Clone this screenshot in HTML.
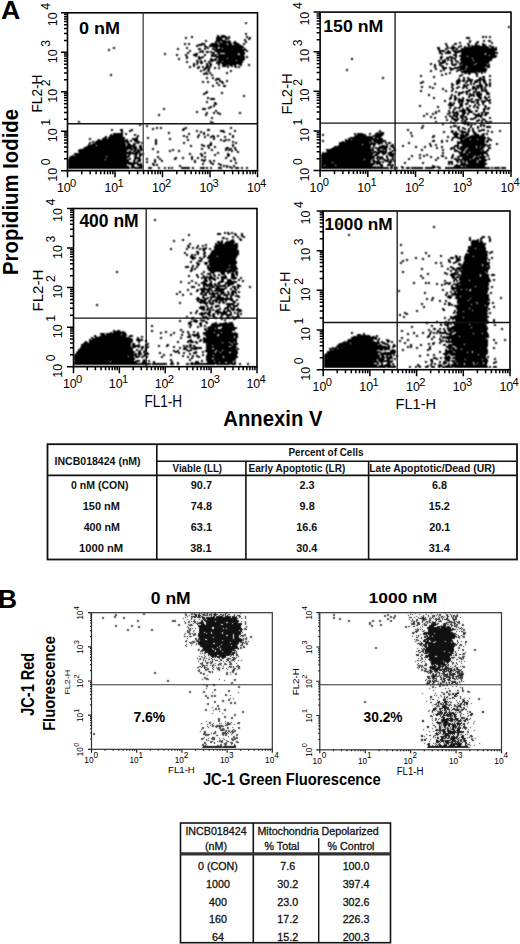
<!DOCTYPE html>
<html><head><meta charset="utf-8"><style>
html,body{margin:0;padding:0;background:#fff;}
body{width:520px;height:944px;overflow:hidden;}
svg{display:block;font-family:"Liberation Sans", sans-serif;}
</style></head><body>
<svg width="520" height="944" viewBox="0 0 520 944">
<defs><filter id="fa" x="0" y="0" width="1" height="1" color-interpolation-filters="sRGB"><feConvolveMatrix order="3" kernelMatrix="1 2 1 2 4 2 1 2 1" edgeMode="none"/></filter><filter id="fb" x="0" y="0" width="1" height="1" color-interpolation-filters="sRGB"><feConvolveMatrix order="3" kernelMatrix="1 2 1 2 12 2 1 2 1" edgeMode="none"/></filter></defs>
<g filter="url(#fa)"><path d="M245 22.5h2m-2 1h2m261 3h2m-2 1h2m-265 6h2m-2 1h2m-30 1h2m2 0h4m-34 1h2m24 0h3m1 0h6m1 0h2m16 0h2m234 0h2m1 0h2m2 0h2m-306 1h2m4 0h2m23 0h11m1 0h2m16 0h2m1 0h2m215 0h4m12 0h2m1 0h2m2 0h2m-306 1h2m29 0h6m3 0h5m18 0h3m215 0h4m-254 1h7m2 0h3m16 0h2m2 0h2m-45 1h2m9 0h10m2 0h2m14 0h2m223 0h2m12 0h2m3 0h3m-286 1h2m8 0h5m1 0h10m3 0h2m9 0h2m222 0h2m6 0h2m4 0h2m3 0h3m-276 1h2m1 0h3m1 0h9m2 0h4m8 0h2m212 0h2m8 0h2m5 0h3m12 0h2m-309 1h2m2 0h2m11 0h4m6 0h7m1 0h8m1 0h4m1 0h6m4 0h2m200 0h2m7 0h3m2 0h2m6 0h2m6 0h3m4 0h2m7 0h2m-309 1h2m2 0h2m8 0h7m5 0h8m1 0h8m1 0h4m2 0h6m3 0h2m200 0h2m7 0h3m10 0h3m5 0h2m5 0h4m-290 1h6m2 0h2m3 0h33m204 0h2m4 0h2m6 0h2m6 0h2m1 0h2m1 0h6m2 0h4m3 0h2m-295 1h2m6 0h3m2 0h35m202 0h2m4 0h2m4 0h4m2 0h2m2 0h2m1 0h17m1 0h5m-381 1h2m71 0h2m17 0h4m4 0h5m2 0h24m193 0h3m7 0h2m1 0h6m2 0h2m4 0h25m2 0h3m1 0h2m-384 1h2m62 0h2m7 0h2m10 0h3m3 0h2m1 0h2m3 0h2m1 0h3m1 0h3m1 0h20m1 0h2m191 0h3m5 0h4m1 0h8m3 0h36m-389 1h2m67 0h2m19 0h3m3 0h2m6 0h34m192 0h2m5 0h2m5 0h2m2 0h2m3 0h36m-389 1h2m79 0h2m10 0h2m11 0h34m190 0h7m2 0h2m3 0h5m1 0h39m-308 1h2m8 0h5m2 0h3m1 0h2m3 0h29m2 0h2m191 0h6m2 0h4m2 0h42m-308 1h2m10 0h2m1 0h2m2 0h3m1 0h5m2 0h28m194 0h2m4 0h6m3 0h6m1 0h37m-334 1h2m21 0h2m6 0h3m14 0h3m2 0h3m5 0h13m1 0h6m194 0h4m2 0h6m4 0h2m4 0h24m1 0h12m-334 1h2m10 0h2m7 0h2m6 0h5m6 0h2m5 0h3m1 0h2m1 0h20m2 0h5m196 0h2m10 0h4m4 0h24m1 0h9m-319 1h2m7 0h2m6 0h4m7 0h2m5 0h6m1 0h26m209 0h4m2 0h30m1 0h7m-311 1h2m7 0h2m1 0h2m2 0h2m7 0h34m1 0h2m192 0h3m6 0h3m3 0h2m2 0h8m1 0h29m-311 1h2m10 0h6m12 0h29m1 0h2m192 0h3m3 0h8m1 0h2m4 0h35m-318 1h2m6 0h2m10 0h4m8 0h2m3 0h2m1 0h9m1 0h17m106 0h2m87 0h2m4 0h3m2 0h5m4 0h12m1 0h20m-315 1h2m18 0h2m10 0h7m1 0h27m106 0h2m87 0h2m2 0h2m1 0h2m1 0h2m2 0h2m4 0h32m-296 1h2m2 0h2m2 0h2m4 0h7m1 0h18m1 0h7m194 0h2m2 0h4m1 0h2m1 0h3m2 0h2m3 0h13m1 0h18m-306 1h2m8 0h3m1 0h2m2 0h2m2 0h5m4 0h5m1 0h20m195 0h2m2 0h4m5 0h2m2 0h4m2 0h29m-304 1h2m9 0h2m1 0h3m5 0h2m6 0h27m196 0h7m5 0h2m4 0h2m1 0h29m-296 1h2m1 0h2m2 0h3m3 0h2m1 0h3m4 0h4m1 0h21m188 0h2m7 0h5m2 0h2m3 0h2m2 0h2m2 0h17m1 0h12m-296 1h2m1 0h2m8 0h2m1 0h3m6 0h2m2 0h15m1 0h4m6 0h2m180 0h2m2 0h2m3 0h2m5 0h2m3 0h6m2 0h2m1 0h12m1 0h12m1 0h2m-297 1h2m11 0h3m1 0h2m6 0h2m2 0h6m1 0h4m1 0h2m4 0h2m6 0h2m184 0h2m3 0h4m9 0h4m4 0h30m-301 1h2m2 0h2m3 0h2m2 0h2m2 0h5m11 0h4m1 0h2m2 0h2m1 0h3m1 0h2m194 0h2m5 0h3m14 0h8m1 0h23m-301 1h2m6 0h3m2 0h2m1 0h3m1 0h2m3 0h2m2 0h2m7 0h2m6 0h2m1 0h2m194 0h2m6 0h5m2 0h2m3 0h12m1 0h18m2 0h3m-293 1h2m5 0h6m4 0h2m2 0h2m215 0h2m5 0h5m2 0h10m1 0h27m-284 1h3m2 0h2m136 0h2m87 0h2m6 0h2m5 0h4m4 0h7m1 0h21m-287 1h2m1 0h2m2 0h3m20 0h2m114 0h2m82 0h2m8 0h2m1 0h2m5 0h2m4 0h6m1 0h24m-287 1h2m5 0h2m21 0h2m198 0h2m8 0h2m14 0h2m3 0h25m-281 1h2m2 0h2m15 0h2m221 0h2m10 0h16m1 0h2m1 0h2m1 0h2m-283 1h5m1 0h2m15 0h2m217 0h2m2 0h2m13 0h3m1 0h3m4 0h3m3 0h2m-373 1h2m91 0h2m1 0h2m3 0h2m228 0h2m2 0h2m14 0h2m5 0h2m6 0h2m-368 1h2m99 0h2m207 0h2m19 0h2m16 0h4m13 0h2m11 0h2m-71 1h2m11 0h2m24 0h2m15 0h2m4 0h3m4 0h2m-285 1h2m4 0h2m168 0h2m49 0h2m28 0h2m2 0h2m10 0h2m1 0h3m-279 1h2m4 0h2m2 0h4m162 0h2m74 0h2m3 0h2m2 0h3m9 0h3m1 0h2m-270 1h5m238 0h2m3 0h2m3 0h5m4 0h8m4 0h2m-276 1h2m2 0h2m5 0h2m228 0h5m1 0h3m1 0h7m2 0h6m1 0h4m3 0h2m-289 1h2m3 0h2m10 0h4m3 0h2m194 0h2m32 0h5m1 0h3m1 0h3m1 0h2m2 0h4m1 0h2m2 0h3m-284 1h2m3 0h2m7 0h2m3 0h3m196 0h4m32 0h4m5 0h2m3 0h2m2 0h4m1 0h2m2 0h3m3 0h2m-275 1h2m4 0h2m196 0h2m12 0h2m15 0h2m3 0h4m5 0h2m3 0h2m1 0h2m4 0h2m3 0h3m2 0h2m-273 1h2m214 0h2m15 0h3m2 0h2m5 0h2m2 0h2m1 0h2m1 0h2m4 0h3m3 0h3m1 0h2m-279 1h2m4 0h2m3 0h3m226 0h2m9 0h6m7 0h7m2 0h3m1 0h2m-279 1h2m9 0h3m195 0h2m6 0h2m20 0h2m5 0h2m3 0h4m5 0h3m1 0h7m2 0h2m2 0h2m-70 1h2m6 0h2m1 0h2m17 0h2m3 0h4m2 0h3m1 0h2m4 0h4m1 0h2m1 0h3m1 0h2m-54 1h2m8 0h2m8 0h2m2 0h2m4 0h2m2 0h2m4 0h7m1 0h3m1 0h2m-44 1h2m8 0h2m15 0h2m1 0h2m1 0h2m4 0h3m1 0h2m-67 1h2m23 0h2m4 0h2m14 0h4m4 0h2m4 0h6m-281 1h2m212 0h2m23 0h2m4 0h2m2 0h2m5 0h2m1 0h5m3 0h4m1 0h2m1 0h2m1 0h4m-283 1h3m13 0h2m232 0h2m1 0h6m1 0h3m5 0h2m1 0h4m6 0h3m-286 1h4m14 0h2m235 0h5m3 0h2m1 0h2m2 0h2m1 0h6m4 0h4m-287 1h2m223 0h2m21 0h2m5 0h2m6 0h2m1 0h5m2 0h6m4 0h4m-247 1h2m183 0h2m21 0h2m1 0h2m2 0h2m9 0h6m1 0h6m-239 1h2m205 0h2m2 0h2m12 0h3m2 0h2m2 0h4m3 0h2m2 0h2m-283 1h2m224 0h2m15 0h2m2 0h3m5 0h2m4 0h2m8 0h4m2 0h3m1 0h2m-283 1h2m1 0h5m218 0h2m14 0h3m2 0h3m1 0h2m2 0h2m7 0h2m6 0h3m2 0h4m-278 1h5m234 0h2m3 0h3m1 0h6m2 0h4m1 0h2m2 0h6m5 0h2m1 0h2m-47 1h2m8 0h2m2 0h6m2 0h6m3 0h4m2 0h2m1 0h7m-285 1h2m236 0h2m12 0h6m3 0h2m1 0h5m2 0h2m2 0h5m2 0h2m-284 1h2m6 0h2m233 0h3m1 0h2m3 0h2m1 0h2m4 0h2m2 0h4m1 0h3m3 0h3m4 0h2m-277 1h3m232 0h3m1 0h2m4 0h4m2 0h3m8 0h3m3 0h2m5 0h2m-277 1h3m231 0h6m5 0h4m2 0h3m6 0h2m2 0h2m2 0h2m-271 1h2m204 0h2m27 0h6m6 0h3m6 0h2m3 0h2m2 0h2m4 0h2m-276 1h2m1 0h2m204 0h2m16 0h2m11 0h2m7 0h4m6 0h2m2 0h2m1 0h2m6 0h3m-279 1h4m225 0h2m10 0h2m3 0h3m1 0h3m5 0h3m4 0h2m1 0h3m6 0h2m1 0h2m-327 1h2m37 0h4m2 0h2m239 0h2m3 0h3m1 0h2m2 0h2m2 0h3m8 0h2m4 0h3m1 0h3m-327 1h2m37 0h4m247 0h2m7 0h3m1 0h5m12 0h3m1 0h2m-274 1h2m221 0h2m8 0h2m3 0h2m4 0h7m1 0h4m4 0h3m5 0h2m-289 1h2m17 0h2m218 0h2m1 0h2m8 0h2m2 0h2m2 0h2m1 0h7m2 0h5m2 0h3m5 0h2m-289 1h2m8 0h2m5 0h2m2 0h2m20 0h2m194 0h2m12 0h2m1 0h6m4 0h4m2 0h5m8 0h8m-283 1h2m5 0h2m2 0h4m18 0h2m185 0h2m4 0h2m1 0h2m10 0h4m2 0h6m3 0h4m1 0h2m4 0h2m3 0h2m1 0h2m2 0h4m-331 1h2m45 0h2m12 0h2m205 0h2m4 0h2m13 0h2m4 0h2m1 0h3m3 0h3m2 0h2m4 0h7m1 0h2m1 0h3m-329 1h2m45 0h2m216 0h2m24 0h2m2 0h5m2 0h4m11 0h8m1 0h3m-64 1h2m5 0h2m13 0h2m2 0h9m2 0h7m8 0h7m-271 1h2m217 0h2m2 0h2m9 0h2m4 0h2m3 0h2m2 0h3m1 0h3m7 0h3m3 0h2m7 0h2m-280 1h2m221 0h2m15 0h5m1 0h2m2 0h3m2 0h2m2 0h6m6 0h2m5 0h2m-45 1h2m4 0h7m3 0h2m1 0h3m2 0h4m4 0h2m2 0h4m-40 1h2m6 0h4m3 0h2m1 0h3m9 0h4m1 0h2m1 0h2m-408 1h2m130 0h2m223 0h2m13 0h2m3 0h2m4 0h2m1 0h2m10 0h3m2 0h2m2 0h3m1 0h3m-414 1h2m130 0h4m221 0h2m13 0h2m1 0h2m7 0h8m11 0h2m2 0h7m-280 1h2m228 0h2m9 0h2m7 0h8m1 0h2m1 0h2m4 0h3m4 0h2m-350 1h2m301 0h2m20 0h2m1 0h3m1 0h2m1 0h2m4 0h2m1 0h2m-346 1h2m5 0h2m274 0h2m29 0h4m10 0h2m1 0h2m8 0h2m1 0h2m-339 1h2m274 0h2m26 0h2m1 0h4m1 0h2m10 0h2m5 0h2m1 0h2m1 0h2m1 0h5m-335 1h2m2 0h2m23 0h2m43 0h2m189 0h2m27 0h2m5 0h3m2 0h2m6 0h2m5 0h2m7 0h5m-339 1h2m2 0h2m2 0h2m21 0h4m43 0h2m189 0h2m34 0h2m3 0h4m2 0h2m2 0h2m3 0h2m-368 1h2m7 0h3m8 0h2m19 0h2m28 0h3m22 0h3m197 0h2m49 0h2m4 0h2m2 0h2m2 0h2m7 0h4m-374 1h2m7 0h3m6 0h4m49 0h2m12 0h2m9 0h3m10 0h4m10 0h2m143 0h2m26 0h2m42 0h2m5 0h2m1 0h2m5 0h2m2 0h2m4 0h7m2 0h2m10 0h2m-380 1h2m6 0h2m65 0h2m2 0h2m18 0h5m9 0h2m143 0h2m62 0h2m6 0h3m1 0h2m3 0h6m1 0h3m2 0h3m3 0h3m6 0h2m2 0h2m6 0h2m-380 1h2m45 0h2m30 0h2m1 0h2m18 0h2m152 0h2m1 0h4m26 0h2m31 0h2m6 0h3m1 0h2m3 0h6m1 0h2m4 0h3m15 0h2m-380 1h10m2 0h2m41 0h2m18 0h2m13 0h2m24 0h2m123 0h2m1 0h6m6 0h2m4 0h9m26 0h2m41 0h6m3 0h2m1 0h4m4 0h4m6 0h2m1 0h2m-378 1h2m1 0h10m2 0h2m7 0h2m52 0h2m8 0h2m3 0h2m2 0h2m20 0h2m91 0h2m30 0h2m1 0h9m3 0h2m4 0h9m69 0h6m1 0h4m1 0h4m5 0h5m2 0h4m1 0h2m-378 1h13m11 0h2m1 0h2m44 0h2m13 0h2m7 0h2m3 0h2m3 0h2m13 0h2m88 0h2m31 0h11m7 0h10m28 0h2m20 0h2m19 0h4m2 0h9m2 0h9m1 0h3m-379 1h2m2 0h14m14 0h2m44 0h2m1 0h2m9 0h2m5 0h2m4 0h5m2 0h2m5 0h2m6 0h2m120 0h28m29 0h2m19 0h3m12 0h2m5 0h4m2 0h7m2 0h16m-381 1h3m1 0h17m11 0h2m9 0h2m37 0h2m9 0h2m5 0h2m4 0h2m1 0h2m9 0h2m6 0h2m116 0h23m2 0h6m51 0h2m13 0h2m3 0h13m1 0h20m1 0h2m-400 1h2m11 0h5m1 0h17m7 0h6m9 0h2m20 0h2m42 0h2m133 0h29m1 0h5m69 0h2m3 0h29m1 0h3m-401 1h2m7 0h2m2 0h23m1 0h2m4 0h6m17 0h2m12 0h2m16 0h2m24 0h2m5 0h2m3 0h2m1 0h2m115 0h2m1 0h3m1 0h31m68 0h2m7 0h3m1 0h6m1 0h6m1 0h7m3 0h4m-395 1h31m2 0h2m2 0h4m17 0h2m30 0h2m31 0h2m1 0h4m1 0h2m92 0h2m21 0h27m1 0h13m46 0h3m6 0h2m3 0h2m3 0h2m7 0h25m1 0h3m1 0h2m-400 1h2m1 0h34m1 0h2m2 0h6m15 0h2m66 0h2m7 0h2m88 0h2m18 0h2m1 0h27m1 0h13m46 0h3m6 0h2m3 0h2m9 0h2m1 0h25m1 0h3m-400 1h2m1 0h2m1 0h30m1 0h3m7 0h4m1 0h2m12 0h2m26 0h2m25 0h2m20 0h2m1 0h2m102 0h31m1 0h2m1 0h9m2 0h2m1 0h3m17 0h2m31 0h2m14 0h28m1 0h2m-399 1h2m2 0h33m1 0h3m3 0h3m1 0h2m2 0h2m12 0h2m26 0h2m25 0h2m23 0h2m102 0h37m1 0h6m2 0h2m1 0h3m17 0h2m19 0h2m26 0h28m11 0h2m-410 1h2m1 0h35m1 0h4m2 0h3m19 0h2m44 0h2m6 0h3m20 0h2m105 0h23m1 0h13m2 0h2m6 0h2m4 0h2m35 0h2m4 0h2m20 0h2m3 0h25m2 0h2m5 0h2m-410 1h8m1 0h29m1 0h8m4 0h3m48 0h2m9 0h4m2 0h5m20 0h2m104 0h33m2 0h2m6 0h4m1 0h2m2 0h4m8 0h2m26 0h2m3 0h2m17 0h5m3 0h29m-405 1h51m2 0h3m48 0h2m11 0h2m2 0h2m5 0h2m16 0h2m100 0h37m2 0h2m4 0h9m2 0h4m8 0h2m11 0h2m7 0h2m4 0h2m9 0h2m11 0h5m1 0h16m1 0h3m1 0h4m2 0h2m-405 1h48m1 0h4m2 0h3m66 0h2m4 0h2m10 0h3m5 0h2m97 0h38m1 0h2m1 0h2m1 0h10m4 0h3m20 0h2m7 0h2m10 0h2m3 0h2m8 0h4m2 0h2m1 0h16m1 0h8m3 0h3m-408 1h54m2 0h4m9 0h2m47 0h2m5 0h2m15 0h4m1 0h2m2 0h2m95 0h40m1 0h2m1 0h12m2 0h2m2 0h2m41 0h2m12 0h5m2 0h9m2 0h15m5 0h3m-412 1h50m1 0h3m1 0h5m1 0h3m9 0h2m18 0h2m27 0h2m8 0h2m12 0h2m1 0h4m3 0h2m89 0h48m3 0h3m3 0h4m2 0h2m3 0h2m25 0h2m19 0h2m6 0h2m2 0h2m3 0h6m1 0h18m3 0h2m-411 1h49m3 0h2m1 0h3m1 0h6m26 0h2m1 0h2m4 0h2m31 0h2m12 0h2m1 0h2m1 0h2m2 0h2m89 0h48m3 0h7m1 0h2m5 0h4m25 0h2m19 0h2m10 0h4m3 0h4m1 0h15m1 0h2m2 0h3m-411 1h49m1 0h3m2 0h7m17 0h2m10 0h2m7 0h2m51 0h2m4 0h2m88 0h45m1 0h4m1 0h9m3 0h4m60 0h6m1 0h3m1 0h23m-409 1h55m1 0h6m16 0h2m45 0h2m11 0h2m18 0h2m83 0h2m1 0h62m1 0h4m50 0h2m14 0h5m2 0h4m1 0h17m-413 1h64m1 0h2m1 0h2m45 0h2m9 0h2m2 0h2m11 0h2m8 0h2m93 0h52m2 0h4m2 0h5m1 0h7m47 0h2m15 0h29m-414 1h53m1 0h3m2 0h5m1 0h5m45 0h2m9 0h3m11 0h2m11 0h3m91 0h52m1 0h5m3 0h3m3 0h7m24 0h2m5 0h2m24 0h2m6 0h7m1 0h16m2 0h2m-416 1h2m1 0h52m1 0h2m5 0h2m2 0h3m59 0h2m11 0h2m11 0h3m91 0h52m1 0h4m8 0h2m1 0h5m17 0h2m6 0h2m2 0h2m1 0h2m13 0h3m8 0h2m5 0h21m1 0h3m3 0h2m-419 1h36m1 0h23m4 0h3m2 0h2m16 0h2m32 0h2m8 0h2m1 0h2m21 0h2m92 0h54m2 0h3m1 0h2m3 0h2m2 0h4m17 0h2m10 0h2m5 0h2m9 0h3m7 0h3m3 0h17m2 0h2m1 0h7m1 0h2m-420 1h60m5 0h6m17 0h2m16 0h2m5 0h2m7 0h2m4 0h2m5 0h2m19 0h2m6 0h2m86 0h54m1 0h7m3 0h2m4 0h2m25 0h2m9 0h2m5 0h2m6 0h2m4 0h2m4 0h2m3 0h11m1 0h12m-417 1h58m2 0h2m3 0h7m5 0h2m11 0h2m13 0h3m5 0h2m7 0h2m4 0h2m26 0h2m6 0h2m86 0h53m2 0h2m1 0h5m3 0h2m3 0h2m14 0h2m9 0h2m16 0h2m6 0h2m4 0h2m1 0h3m1 0h2m2 0h11m1 0h11m3 0h2m-422 1h37m1 0h25m3 0h2m2 0h3m5 0h2m6 0h2m3 0h2m13 0h2m15 0h2m8 0h2m1 0h2m28 0h2m85 0h43m1 0h7m1 0h2m2 0h4m1 0h4m1 0h2m1 0h4m14 0h2m25 0h2m17 0h16m1 0h8m2 0h6m1 0h2m-422 1h61m4 0h3m1 0h4m13 0h2m5 0h2m31 0h2m5 0h5m3 0h2m2 0h2m15 0h2m2 0h2m85 0h50m1 0h3m2 0h2m5 0h5m1 0h2m1 0h2m40 0h2m19 0h3m1 0h2m1 0h14m1 0h9m-419 1h61m4 0h2m2 0h4m5 0h2m6 0h2m5 0h2m31 0h2m7 0h2m4 0h2m2 0h2m15 0h2m89 0h50m1 0h9m1 0h2m1 0h7m1 0h2m53 0h5m3 0h3m1 0h3m1 0h2m1 0h10m1 0h8m-418 1h64m1 0h5m8 0h2m6 0h2m38 0h2m14 0h2m23 0h2m84 0h11m1 0h38m2 0h8m1 0h2m4 0h4m12 0h2m16 0h2m24 0h5m4 0h2m1 0h3m1 0h2m1 0h10m1 0h7m-417 1h71m1 0h2m10 0h2m48 0h2m6 0h4m4 0h2m15 0h2m84 0h54m1 0h5m8 0h2m13 0h2m16 0h2m24 0h2m1 0h2m8 0h5m2 0h19m-419 1h59m1 0h7m2 0h5m10 0h3m1 0h2m44 0h2m8 0h2m4 0h4m99 0h54m1 0h2m1 0h4m4 0h4m1 0h2m54 0h2m1 0h2m3 0h2m2 0h27m-419 1h59m4 0h3m3 0h6m10 0h2m1 0h2m21 0h2m39 0h2m1 0h2m1 0h2m5 0h2m86 0h3m1 0h10m1 0h37m7 0h3m4 0h7m38 0h2m20 0h31m-417 1h61m2 0h4m4 0h4m36 0h2m42 0h2m1 0h2m1 0h2m2 0h2m86 0h52m1 0h2m1 0h2m1 0h3m8 0h2m8 0h2m29 0h4m1 0h2m15 0h7m2 0h2m1 0h19m-417 1h62m1 0h12m5 0h4m6 0h2m4 0h2m2 0h2m1 0h2m8 0h9m2 0h2m6 0h5m1 0h2m2 0h2m6 0h4m4 0h2m1 0h4m2 0h4m2 0h2m3 0h2m73 0h68m1 0h3m1 0h4m3 0h3m2 0h4m1 0h12m2 0h11m1 0h4m4 0h45m1 0h2m1 0h6m1 0h5m-438 1h62m1 0h2m1 0h9m5 0h4m6 0h2m4 0h2m2 0h2m1 0h2m8 0h9m2 0h2m6 0h5m1 0h2m2 0h2m6 0h4m9 0h2m2 0h4m2 0h2m3 0h2m73 0h68m1 0h3m1 0h4m4 0h2m2 0h4m1 0h12m2 0h9m4 0h3m4 0h45m1 0h2m1 0h6m1 0h5m-352 51h2m-2 1h2m182 3h2m-2 1h2m93 2h2m-2 1h2m-211 5h2m1 0h2m2 0h2m-16 1h4m3 0h2m1 0h3m1 0h2m1 0h2m5 0h2m-55 1h2m27 0h4m7 0h2m4 0h3m4 0h2m105 0h2m-162 1h2m45 0h2m4 0h2m105 0h2m-118 1h2m3 0h2m2 0h4m237 0h3m3 0h2m-268 1h3m7 0h2m3 0h2m4 0h2m224 0h2m10 0h4m3 0h2m-268 1h3m1 0h2m11 0h2m228 0h2m9 0h3m6 0h2m-309 1h2m42 0h2m4 0h2m5 0h3m227 0h2m6 0h2m1 0h2m7 0h2m-318 1h2m7 0h2m37 0h2m7 0h4m6 0h2m227 0h2m1 0h7m1 0h2m7 0h2m-318 1h2m42 0h3m1 0h2m3 0h9m236 0h8m1 0h3m6 0h2m-274 1h6m2 0h10m236 0h12m-294 1h2m24 0h2m1 0h5m1 0h10m1 0h3m233 0h15m-297 1h2m14 0h2m8 0h23m162 0h2m69 0h15m-299 1h2m8 0h2m3 0h2m1 0h2m8 0h23m162 0h2m69 0h14m-298 1h3m7 0h2m3 0h2m10 0h24m230 0h17m-297 1h2m2 0h2m2 0h2m7 0h2m7 0h24m230 0h18m-316 1h2m14 0h2m4 0h2m2 0h2m1 0h2m1 0h5m2 0h2m3 0h24m230 0h7m1 0h10m-316 1h2m14 0h2m11 0h2m1 0h4m3 0h2m3 0h23m231 0h18m-283 1h2m7 0h27m228 0h19m-290 1h3m4 0h2m6 0h28m228 0h21m3 0h2m-309 1h2m10 0h3m5 0h2m5 0h28m162 0h2m22 0h2m41 0h20m1 0h4m-309 1h2m11 0h2m4 0h3m4 0h29m162 0h2m22 0h2m39 0h2m1 0h18m2 0h2m-305 1h2m3 0h2m1 0h2m1 0h2m4 0h2m5 0h29m226 0h23m-302 1h2m3 0h2m1 0h2m8 0h2m2 0h30m190 0h2m10 0h2m13 0h2m8 0h23m-298 1h4m9 0h3m2 0h9m1 0h19m191 0h2m10 0h2m13 0h3m1 0h2m3 0h9m1 0h13m-297 1h6m3 0h2m2 0h2m2 0h30m178 0h2m33 0h4m1 0h3m1 0h2m3 0h24m3 0h2m-302 1h5m3 0h4m4 0h29m179 0h2m5 0h2m26 0h4m2 0h4m4 0h24m3 0h2m-301 1h2m7 0h2m6 0h27m170 0h2m14 0h2m24 0h2m6 0h5m3 0h23m1 0h2m-292 1h4m6 0h28m166 0h2m2 0h2m40 0h2m6 0h5m3 0h23m1 0h2m-300 1h2m6 0h4m6 0h29m165 0h2m44 0h3m4 0h4m5 0h23m-297 1h2m4 0h2m6 0h4m1 0h28m163 0h2m33 0h2m3 0h2m7 0h2m2 0h4m6 0h27m-294 1h4m4 0h4m1 0h28m163 0h2m33 0h2m3 0h2m11 0h2m3 0h3m2 0h27m-293 1h3m5 0h2m2 0h27m222 0h3m1 0h20m1 0h6m-297 1h2m3 0h2m8 0h22m1 0h6m205 0h2m16 0h23m1 0h7m-305 1h4m3 0h2m2 0h2m9 0h2m1 0h27m204 0h2m7 0h2m9 0h26m1 0h2m-305 1h4m2 0h2m3 0h2m9 0h30m213 0h4m3 0h33m-299 1h2m1 0h2m11 0h22m1 0h8m183 0h2m24 0h2m3 0h3m1 0h34m-299 1h2m1 0h2m12 0h19m1 0h10m183 0h2m24 0h2m3 0h9m1 0h27m-299 1h3m15 0h28m214 0h2m3 0h2m2 0h29m-372 1h2m72 0h2m11 0h2m5 0h28m164 0h2m46 0h2m3 0h4m1 0h28m-372 1h2m85 0h2m5 0h5m5 0h5m2 0h4m1 0h2m1 0h3m164 0h2m40 0h2m8 0h2m1 0h2m2 0h24m1 0h2m-287 1h2m4 0h4m1 0h2m7 0h4m2 0h2m2 0h3m1 0h3m189 0h2m15 0h4m3 0h7m3 0h26m-291 1h2m3 0h2m4 0h4m2 0h2m3 0h2m1 0h4m6 0h4m1 0h2m189 0h2m17 0h2m2 0h10m1 0h19m1 0h8m2 0h4m-307 1h2m6 0h2m5 0h2m5 0h2m1 0h3m2 0h2m4 0h2m5 0h4m1 0h2m182 0h2m28 0h5m3 0h22m1 0h8m2 0h4m-307 1h2m7 0h2m4 0h2m1 0h2m1 0h3m2 0h2m5 0h6m4 0h4m185 0h2m29 0h4m1 0h3m1 0h20m1 0h8m-292 1h2m2 0h13m3 0h2m2 0h6m4 0h6m3 0h2m180 0h2m28 0h3m1 0h33m-288 1h2m1 0h3m1 0h8m1 0h2m2 0h6m4 0h6m3 0h2m180 0h2m28 0h5m2 0h31m-286 1h3m2 0h2m1 0h4m5 0h3m3 0h4m2 0h2m3 0h2m214 0h3m2 0h31m3 0h2m-304 1h2m11 0h4m1 0h2m3 0h2m5 0h3m3 0h5m6 0h2m2 0h2m200 0h2m7 0h2m1 0h2m1 0h10m1 0h21m2 0h2m-315 1h2m9 0h2m10 0h5m2 0h2m7 0h5m3 0h10m5 0h2m200 0h2m7 0h2m1 0h2m2 0h31m-311 1h2m6 0h2m5 0h2m4 0h5m4 0h2m6 0h5m2 0h12m176 0h2m10 0h2m1 0h2m16 0h2m1 0h2m7 0h31m-301 1h2m5 0h2m4 0h6m2 0h3m2 0h2m1 0h3m5 0h9m179 0h2m10 0h2m1 0h2m6 0h2m6 0h7m2 0h2m1 0h33m-291 1h2m3 0h10m1 0h2m1 0h3m4 0h2m1 0h7m3 0h2m197 0h2m3 0h2m1 0h2m2 0h2m3 0h6m1 0h29m-291 1h2m3 0h10m1 0h4m1 0h7m1 0h4m6 0h4m200 0h2m8 0h2m2 0h34m-298 1h4m8 0h2m1 0h2m1 0h6m1 0h10m1 0h2m3 0h4m1 0h4m8 0h2m200 0h2m3 0h19m1 0h12m3 0h2m-302 1h4m8 0h2m3 0h2m1 0h4m1 0h4m5 0h2m5 0h4m1 0h2m10 0h2m200 0h38m2 0h2m-293 1h7m1 0h4m3 0h12m3 0h2m2 0h2m1 0h2m212 0h38m-302 1h2m8 0h2m1 0h12m3 0h10m5 0h2m2 0h3m205 0h2m7 0h4m1 0h5m1 0h4m1 0h3m1 0h18m-302 1h2m7 0h3m2 0h4m1 0h4m1 0h2m1 0h10m8 0h2m1 0h2m161 0h2m42 0h2m9 0h2m1 0h13m2 0h17m-309 1h2m15 0h2m3 0h4m2 0h3m1 0h2m1 0h2m1 0h7m3 0h2m2 0h5m2 0h2m158 0h2m50 0h2m2 0h34m-309 1h2m20 0h9m2 0h2m2 0h2m2 0h5m2 0h2m2 0h6m1 0h2m184 0h2m20 0h2m2 0h2m2 0h2m1 0h31m2 0h2m-316 1h2m12 0h2m8 0h3m2 0h2m2 0h10m1 0h5m3 0h2m1 0h3m1 0h2m187 0h2m20 0h2m4 0h35m3 0h2m-316 1h2m4 0h2m6 0h2m8 0h7m2 0h7m1 0h2m1 0h2m1 0h7m1 0h3m211 0h2m4 0h38m-307 1h2m19 0h4m5 0h3m2 0h4m2 0h5m2 0h4m1 0h4m206 0h2m1 0h2m1 0h2m1 0h35m-287 1h2m6 0h6m1 0h4m5 0h2m2 0h2m3 0h5m207 0h5m4 0h4m1 0h28m-292 1h2m3 0h3m2 0h2m1 0h14m2 0h2m2 0h2m6 0h2m192 0h2m13 0h5m3 0h34m11 0h2m-306 1h4m3 0h6m1 0h2m4 0h17m193 0h2m4 0h2m15 0h2m4 0h15m1 0h18m11 0h2m-306 1h7m1 0h3m3 0h2m2 0h19m3 0h2m188 0h2m3 0h2m24 0h33m-293 1h2m1 0h6m2 0h3m1 0h6m1 0h5m1 0h2m3 0h4m2 0h2m193 0h2m6 0h2m4 0h2m10 0h11m1 0h21m-293 1h9m2 0h3m1 0h2m1 0h3m1 0h2m1 0h2m1 0h2m5 0h4m203 0h2m4 0h2m10 0h31m-309 1h2m18 0h9m1 0h2m1 0h2m1 0h2m1 0h3m1 0h3m8 0h3m212 0h2m7 0h19m1 0h13m2 0h2m-315 1h2m19 0h2m1 0h5m1 0h5m4 0h2m3 0h2m1 0h9m2 0h2m182 0h2m21 0h2m2 0h3m6 0h20m1 0h12m2 0h2m-398 1h2m107 0h2m3 0h4m12 0h8m3 0h2m182 0h2m21 0h2m2 0h5m5 0h13m1 0h17m-393 1h2m108 0h2m7 0h5m7 0h4m1 0h6m210 0h2m1 0h2m1 0h31m1 0h3m-289 1h5m1 0h2m3 0h2m2 0h5m7 0h4m2 0h5m185 0h2m29 0h34m5 0h2m-296 1h6m2 0h2m1 0h3m2 0h2m8 0h4m1 0h2m1 0h2m188 0h2m31 0h32m5 0h2m-296 1h6m2 0h2m1 0h2m7 0h2m3 0h5m1 0h5m2 0h2m203 0h2m12 0h13m1 0h20m-289 1h4m1 0h5m1 0h2m3 0h4m3 0h2m1 0h2m2 0h4m1 0h5m201 0h3m12 0h30m1 0h2m-294 1h2m5 0h2m1 0h2m1 0h2m1 0h2m1 0h4m4 0h2m2 0h4m1 0h3m1 0h6m174 0h2m25 0h2m9 0h2m1 0h15m1 0h15m-292 1h2m10 0h3m4 0h6m2 0h8m7 0h4m174 0h2m36 0h2m1 0h6m1 0h24m-298 1h2m3 0h2m4 0h2m1 0h3m1 0h3m4 0h12m3 0h2m2 0h2m1 0h2m165 0h2m47 0h2m1 0h31m2 0h2m-301 1h2m3 0h2m2 0h12m2 0h2m2 0h2m1 0h7m3 0h2m2 0h2m1 0h2m1 0h2m162 0h4m45 0h2m1 0h32m1 0h2m-292 1h6m2 0h3m2 0h3m2 0h2m2 0h11m5 0h2m1 0h2m157 0h2m5 0h2m49 0h31m-287 1h2m5 0h3m1 0h3m6 0h2m3 0h6m5 0h2m160 0h2m54 0h32m-301 1h2m14 0h5m2 0h2m1 0h3m5 0h3m4 0h2m3 0h2m2 0h4m163 0h2m45 0h2m1 0h36m-303 1h2m4 0h2m8 0h6m5 0h4m3 0h2m4 0h5m1 0h8m163 0h2m39 0h2m4 0h13m1 0h25m-298 1h3m12 0h3m6 0h2m3 0h3m3 0h2m1 0h2m2 0h4m207 0h2m4 0h37m-296 1h2m1 0h2m4 0h2m1 0h2m2 0h2m12 0h2m1 0h2m7 0h2m213 0h2m2 0h2m1 0h33m5 0h2m-316 1h2m12 0h5m2 0h5m19 0h2m222 0h2m5 0h33m5 0h2m-316 1h2m9 0h2m1 0h5m4 0h2m1 0h2m229 0h2m7 0h2m5 0h2m1 0h34m4 0h2m-307 1h4m3 0h2m3 0h2m3 0h3m7 0h2m7 0h3m2 0h4m193 0h2m8 0h2m7 0h5m2 0h37m4 0h2m-307 1h3m8 0h3m4 0h2m4 0h5m2 0h14m193 0h2m12 0h2m2 0h2m1 0h5m1 0h35m-300 1h4m7 0h3m9 0h23m206 0h2m2 0h5m1 0h2m2 0h15m1 0h16m8 0h2m-345 1h2m37 0h2m8 0h2m2 0h2m5 0h23m197 0h2m7 0h2m3 0h4m5 0h33m7 0h2m-345 1h2m36 0h2m6 0h2m1 0h2m2 0h2m3 0h12m1 0h12m177 0h2m18 0h2m14 0h2m3 0h35m-298 1h2m6 0h2m8 0h11m4 0h15m174 0h2m34 0h2m1 0h21m1 0h16m-284 1h2m1 0h8m1 0h2m3 0h16m196 0h3m3 0h2m2 0h2m2 0h41m13 0h2m-323 1h2m22 0h3m1 0h27m193 0h2m3 0h3m3 0h2m2 0h2m2 0h41m13 0h2m-390 1h2m2 0h3m31 0h2m27 0h2m23 0h30m166 0h2m25 0h2m7 0h2m5 0h2m2 0h4m1 0h34m-374 1h8m1 0h2m27 0h2m12 0h2m15 0h2m3 0h2m4 0h2m11 0h26m169 0h2m27 0h2m5 0h4m3 0h2m2 0h39m-377 1h2m1 0h13m34 0h2m3 0h2m6 0h2m7 0h2m3 0h2m4 0h2m2 0h2m4 0h11m1 0h6m1 0h11m1 0h2m115 0h2m60 0h2m7 0h2m6 0h2m1 0h2m1 0h2m1 0h8m3 0h4m2 0h32m-388 1h5m1 0h20m34 0h2m11 0h2m13 0h2m7 0h2m4 0h35m113 0h2m10 0h2m42 0h2m4 0h2m7 0h2m5 0h2m2 0h2m1 0h2m1 0h13m3 0h18m1 0h8m1 0h5m-388 1h5m1 0h15m1 0h5m43 0h2m9 0h2m5 0h2m2 0h7m4 0h15m1 0h19m119 0h4m2 0h2m42 0h2m20 0h2m15 0h6m1 0h36m-395 1h2m5 0h26m2 0h4m37 0h2m9 0h2m6 0h2m1 0h8m5 0h12m2 0h19m119 0h13m6 0h2m38 0h2m10 0h2m10 0h2m7 0h40m-395 1h3m2 0h27m3 0h4m8 0h2m44 0h4m3 0h2m1 0h3m6 0h28m1 0h3m115 0h18m1 0h3m1 0h2m38 0h2m9 0h3m3 0h2m5 0h2m1 0h2m1 0h13m1 0h29m-398 1h2m2 0h35m7 0h2m2 0h2m17 0h2m18 0h2m5 0h4m6 0h3m3 0h2m1 0h28m1 0h3m113 0h26m24 0h2m24 0h2m4 0h2m7 0h47m-398 1h41m5 0h2m21 0h2m18 0h2m15 0h2m4 0h34m114 0h26m1 0h2m21 0h2m28 0h2m6 0h2m1 0h2m1 0h41m-397 1h2m1 0h41m3 0h7m47 0h2m8 0h2m1 0h34m111 0h26m1 0h2m1 0h2m6 0h2m19 0h2m22 0h2m6 0h2m7 0h2m1 0h37m5 0h2m9 0h2m-417 1h44m3 0h7m2 0h2m41 0h4m7 0h3m1 0h34m110 0h26m4 0h2m7 0h4m9 0h2m6 0h2m31 0h4m1 0h2m1 0h2m1 0h37m5 0h2m9 0h2m-421 1h2m2 0h44m5 0h2m5 0h2m30 0h2m8 0h7m1 0h2m2 0h2m2 0h34m107 0h2m1 0h28m2 0h2m2 0h2m4 0h3m1 0h2m6 0h2m39 0h4m1 0h43m-404 1h4m1 0h43m6 0h2m37 0h2m8 0h2m1 0h4m1 0h3m5 0h19m1 0h6m1 0h4m1 0h2m105 0h38m1 0h4m2 0h2m2 0h2m11 0h2m27 0h2m4 0h2m5 0h42m7 0h2m-414 1h48m1 0h3m12 0h2m47 0h2m8 0h25m1 0h6m101 0h11m1 0h29m2 0h5m17 0h2m22 0h2m2 0h3m4 0h2m11 0h36m7 0h2m-416 1h50m1 0h3m3 0h2m5 0h4m18 0h2m20 0h3m14 0h26m1 0h5m100 0h40m1 0h2m3 0h5m4 0h2m15 0h2m8 0h2m6 0h2m2 0h2m9 0h3m2 0h16m1 0h23m-407 1h50m1 0h8m5 0h2m11 0h2m6 0h3m14 0h2m1 0h2m1 0h3m1 0h2m11 0h6m1 0h23m101 0h46m4 0h3m3 0h3m14 0h2m8 0h2m21 0h3m2 0h40m-407 1h50m1 0h8m1 0h3m2 0h3m9 0h2m6 0h2m5 0h2m8 0h2m1 0h2m1 0h2m2 0h3m10 0h23m2 0h6m99 0h51m1 0h2m2 0h4m11 0h2m1 0h2m17 0h2m15 0h6m3 0h33m-408 1h56m2 0h2m1 0h3m1 0h4m24 0h2m4 0h2m3 0h4m1 0h4m1 0h8m4 0h31m95 0h2m1 0h55m2 0h2m13 0h2m1 0h2m4 0h2m11 0h2m15 0h9m1 0h31m6 0h2m-415 1h53m8 0h2m2 0h2m32 0h2m2 0h3m5 0h11m4 0h6m2 0h22m1 0h2m90 0h8m1 0h52m26 0h2m11 0h2m17 0h7m2 0h30m6 0h2m-417 1h55m3 0h2m3 0h2m2 0h2m36 0h5m2 0h2m1 0h4m9 0h33m90 0h3m1 0h50m1 0h6m2 0h2m8 0h2m23 0h4m14 0h2m2 0h2m1 0h9m1 0h26m-410 1h55m3 0h2m1 0h2m3 0h3m26 0h2m2 0h2m7 0h6m13 0h11m1 0h5m1 0h14m93 0h47m3 0h3m1 0h2m4 0h6m6 0h2m23 0h2m16 0h43m-411 1h58m3 0h3m2 0h3m27 0h6m9 0h2m5 0h2m5 0h2m1 0h10m1 0h22m89 0h53m10 0h6m43 0h2m4 0h8m1 0h18m1 0h15m-412 1h59m3 0h3m2 0h2m1 0h2m11 0h2m14 0h2m1 0h2m3 0h2m8 0h4m5 0h2m3 0h8m1 0h4m1 0h8m2 0h7m89 0h55m1 0h13m43 0h2m4 0h9m1 0h12m1 0h4m1 0h15m-412 1h58m1 0h2m1 0h4m2 0h5m10 0h2m17 0h2m3 0h2m4 0h2m2 0h4m10 0h31m88 0h52m2 0h15m48 0h45m-414 1h63m1 0h4m2 0h5m14 0h2m5 0h2m17 0h2m11 0h2m3 0h30m87 0h55m1 0h12m1 0h2m32 0h2m4 0h2m8 0h5m2 0h28m1 0h8m-413 1h63m1 0h2m3 0h3m17 0h2m5 0h2m10 0h2m8 0h2m2 0h2m4 0h2m2 0h7m1 0h23m87 0h56m1 0h3m2 0h3m1 0h2m1 0h2m1 0h2m21 0h2m6 0h2m4 0h2m10 0h2m1 0h2m1 0h35m-412 1h54m1 0h5m1 0h5m1 0h4m1 0h2m13 0h2m19 0h2m3 0h2m3 0h2m2 0h4m6 0h17m1 0h14m86 0h56m1 0h4m1 0h2m1 0h3m4 0h2m21 0h2m24 0h5m5 0h31m1 0h2m-415 1h60m1 0h4m2 0h2m3 0h2m13 0h2m24 0h2m2 0h2m5 0h2m6 0h17m1 0h14m86 0h56m1 0h4m1 0h7m40 0h3m4 0h2m2 0h7m1 0h34m1 0h2m-415 1h61m56 0h2m13 0h6m2 0h22m88 0h61m1 0h7m1 0h2m37 0h5m2 0h2m2 0h7m1 0h35m7 0h2m-422 1h61m8 0h2m25 0h2m17 0h2m15 0h30m88 0h53m1 0h6m3 0h3m4 0h2m34 0h3m3 0h2m7 0h5m5 0h10m1 0h16m1 0h5m6 0h2m-422 1h60m2 0h4m3 0h3m2 0h2m20 0h2m17 0h2m10 0h2m3 0h29m89 0h53m1 0h12m1 0h2m37 0h3m12 0h5m1 0h37m-414 1h36m1 0h29m2 0h4m2 0h2m3 0h2m16 0h2m22 0h4m2 0h2m4 0h7m1 0h18m1 0h2m88 0h54m1 0h14m32 0h2m4 0h2m6 0h2m2 0h3m1 0h3m1 0h4m1 0h32m7 0h2m-423 1h63m5 0h4m7 0h2m16 0h2m4 0h2m12 0h2m2 0h4m8 0h12m1 0h5m2 0h6m1 0h2m88 0h55m1 0h3m4 0h5m33 0h2m4 0h2m6 0h2m2 0h4m6 0h20m1 0h9m1 0h4m5 0h4m-423 1h77m1 0h15m3 0h4m3 0h2m7 0h3m1 0h46m3 0h2m6 0h2m75 0h50m3 0h2m2 0h2m4 0h3m2 0h2m37 0h2m1 0h2m7 0h4m1 0h2m3 0h4m1 0h6m1 0h8m1 0h3m1 0h5m1 0h3m6 0h2m-421 1h77m1 0h15m3 0h4m3 0h2m7 0h3m1 0h25m1 0h14m1 0h5m3 0h2m6 0h2m75 0h55m2 0h2m2 0h6m1 0h2m23 0h2m11 0h2m2 0h2m2 0h4m1 0h2m3 0h2m1 0h13m1 0h9m1 0h12m-163 1h53m2 0h12m2 0h2m22 0h3m7 0h2m1 0h2m6 0h4m4 0h4m1 0h36m-163 1h72m13 0h2m4 0h2m1 0h3m4 0h4m2 0h4m3 0h50m1 0h2m2 0h4m-173 1h62m1 0h9m13 0h2m4 0h2m2 0h2m4 0h3m3 0h4m3 0h2m2 0h11m1 0h34m1 0h2m2 0h4" stroke="#000" stroke-width="1" fill="none" shape-rendering="crispEdges"/></g>
<g filter="url(#fb)"><path d="M143 613.5h2m46 0h2m-78 1h2m26 0h2m40 0h2m4 0h2m5 0h2m3 0h2m128 0h2m52 0h2m50 0h2m-326 1h2m68 0h2m11 0h2m3 0h2m128 0h2m49 0h2m1 0h2m5 0h2m36 0h2m5 0h2m15 0h2m-344 1h2m75 0h2m1 0h2m2 0h2m184 0h2m4 0h2m2 0h2m36 0h2m21 0h3m-356 1h2m10 0h2m7 0h2m66 0h2m1 0h2m2 0h2m133 0h2m55 0h2m1 0h2m57 0h2m1 0h2m-355 1h2m19 0h2m208 0h2m4 0h2m46 0h2m4 0h2m29 0h2m9 0h2m1 0h2m12 0h2m1 0h2m-118 1h2m46 0h2m27 0h2m4 0h4m3 0h2m4 0h2m1 0h2m7 0h2m4 0h4m-320 1h2m33 0h4m172 0h2m22 0h2m5 0h2m9 0h2m24 0h2m4 0h3m4 0h2m16 0h2m4 0h2m-318 1h2m33 0h4m12 0h2m4 0h2m152 0h2m22 0h2m5 0h2m9 0h2m21 0h2m35 0h2m6 0h2m-272 1h2m4 0h2m173 0h2m42 0h2m3 0h2m30 0h2m6 0h2m-91 1h2m40 0h4m2 0h3m11 0h2m10 0h2m13 0h2m-282 1h2m10 0h2m177 0h2m9 0h2m29 0h4m2 0h2m5 0h3m4 0h2m10 0h2m11 0h2m4 0h2m-349 1h2m14 0h2m45 0h2m10 0h2m8 0h2m169 0h2m7 0h2m42 0h3m27 0h4m4 0h2m-349 1h2m14 0h2m5 0h2m60 0h2m169 0h2m32 0h2m41 0h2m4 0h3m-319 1h2m265 0h2m41 0h2m-206 1h2m-119 1h2m22 0h2m36 0h2m53 0h2m171 0h2m44 0h2m-338 1h2m22 0h2m36 0h2m225 0h3m44 0h2m-278 1h3m226 0h2m-231 1h3m47 0h2m173 0h2m50 0h2m-277 1h2m3 0h2m2 0h2m37 0h2m173 0h2m50 0h2m-277 1h2m2 0h3m2 0h2m19 0h2m23 0h2m-53 1h2m3 0h2m19 0h2m21 0h4m-48 1h2m42 0h2m6 0h2m206 0h2m3 0h2m-215 1h2m206 0h2m3 0h2m-270 1h2m1 0h2m45 0h2m-52 1h2m1 0h2m42 0h2m1 0h2m169 0h2m-222 1h2m44 0h2m172 0h2m-225 1h2m1 0h4m40 0h2m3 0h2m218 0h2m-277 1h2m1 0h2m3 0h2m40 0h2m3 0h2m218 0h2m-277 1h2m54 0h2m171 0h2m33 0h2m-215 1h2m3 0h2m171 0h3m1 0h2m29 0h3m3 0h2m-221 1h2m177 0h2m1 0h2m28 0h4m3 0h2m-219 1h2m208 0h2m-215 1h2m1 0h2m130 0h2m81 0h2m-220 1h2m133 0h2m46 0h2m33 0h2m-242 1h2m13 0h2m187 0h3m37 0h2m10 0h2m-275 1h2m15 0h2m13 0h2m187 0h2m38 0h2m10 0h2m-275 1h2m7 0h2m-8 1h2m4 0h2m-8 1h2m4 0h2m2 0h2m247 0h2m-255 1h2m2 0h2m12 0h2m6 0h2m178 0h2m3 0h2m32 0h2m6 0h2m-251 1h2m12 0h2m6 0h2m178 0h2m3 0h2m2 0h2m28 0h2m-243 1h2m209 0h2m35 0h2m-231 1h2m190 0h2m25 0h2m5 0h2m1 0h2m-237 1h2m4 0h2m186 0h2m29 0h2m5 0h2m-241 1h2m5 0h2m3 0h2m187 0h2m-203 1h2m10 0h2m-5 1h2m-25 1h2m2 0h2m17 0h2m221 0h2m-253 1h2m3 0h2m2 0h2m7 0h2m3 0h2m4 0h2m193 0h2m25 0h2m-253 1h2m16 0h2m3 0h2m4 0h2m193 0h2m-190 1h2m179 0h2m1 0h2m-193 1h2m5 0h2m179 0h2m1 0h2m40 0h2m-247 1h2m10 0h2m6 0h2m190 0h2m24 0h2m5 0h2m-258 1h2m8 0h3m18 0h2m185 0h2m3 0h2m12 0h2m3 0h2m5 0h2m-253 1h4m8 0h2m14 0h2m186 0h2m2 0h2m17 0h2m3 0h2m7 0h2m-262 1h2m5 0h2m26 0h2m186 0h2m1 0h2m4 0h2m2 0h2m7 0h2m13 0h2m-262 1h2m9 0h2m21 0h2m190 0h2m4 0h2m2 0h2m7 0h2m5 0h2m6 0h2m-306 1h2m44 0h2m7 0h2m15 0h2m4 0h2m209 0h2m5 0h2m6 0h2m1 0h2m-309 1h2m44 0h2m1 0h2m21 0h2m7 0h2m195 0h2m9 0h2m15 0h4m-261 1h2m21 0h2m7 0h2m195 0h2m9 0h4m2 0h4m7 0h4m-33 1h2m2 0h2m7 0h3m2 0h4m4 0h2m2 0h2m-36 1h2m2 0h2m2 0h2m7 0h2m1 0h2m3 0h2m3 0h2m2 0h2m-259 1h2m221 0h3m3 0h2m12 0h2m3 0h2m4 0h5m-259 1h4m220 0h2m3 0h2m17 0h2m4 0h5m-257 1h2m26 0h2m-69 1h2m65 0h2m193 0h2m4 0h2m-270 1h2m260 0h2m2 0h4m5 0h3m-214 1h2m194 0h4m2 0h2m7 0h3m-214 1h2m193 0h3m3 0h2m22 0h2m-245 1h2m211 0h2m4 0h2m8 0h2m2 0h2m8 0h2m-252 1h2m5 0h2m224 0h2m1 0h2m2 0h2m-242 1h2m30 0h2m192 0h2m5 0h2m-203 1h2m192 0h2m-220 2h2m-2 1h2m12 0h2m219 0h2m11 0h2m-275 1h2m12 0h2m23 0h2m216 0h2m1 0h2m11 0h2m4 0h2m-281 1h2m12 0h2m241 0h2m20 0h2m-27 1h2m3 0h2m-225 1h2m216 0h2m3 0h2m-245 1h2m4 0h2m1 0h2m9 0h2m-22 1h2m4 0h2m1 0h2m-9 1h2m-2 1h2m235 0h2m32 0h2m-252 1h2m214 0h2m32 0h2m-258 1h2m4 0h2m214 0h2m-232 1h2m6 0h2m140 0h2m78 0h2m-232 1h2m14 0h2m2 0h2m128 0h2m-159 1h2m21 0h2m2 0h2m204 0h2m18 0h2m-255 1h2m231 0h4m16 0h2m-245 1h2m218 0h2m3 0h2m10 0h2m-239 1h2m218 0h2m15 0h4m-12 1h2m8 0h2m5 0h2m-250 1h2m1 0h2m226 0h2m15 0h2m-260 1h2m8 0h2m1 0h2m4 0h2m-21 1h2m17 0h2m219 0h2m-205 1h2m194 0h2m5 0h2m22 0h2m-229 1h2m194 0h3m8 0h4m16 0h2m-32 1h3m7 0h4m-219 1h2m204 0h2m-208 1h2m194 0h2m16 0h2m1 0h2m-229 1h2m204 0h2m16 0h5m-229 1h2m5 0h2m217 0h2m11 0h2m-247 1h2m11 0h2m202 0h2m26 0h2m-247 1h2m215 0h2m10 0h2m2 0h2m-235 1h2m227 0h2m2 0h2m-235 1h2m221 0h3m-235 1h2m16 0h2m9 0h2m201 0h3m3 0h2m-240 1h2m16 0h4m7 0h2m206 0h3m-223 1h2m1 0h2m215 0h2m6 0h2m-244 1h2m2 0h7m3 0h2m226 0h2m-244 1h2m2 0h7m231 0h2m2 0h2m-258 1h2m15 0h2m6 0h2m9 0h2m214 0h2m2 0h2m4 0h3m-265 1h2m15 0h2m1 0h2m3 0h2m9 0h2m212 0h2m10 0h3m-247 1h4m228 0h2m-234 1h4m1 0h2m1 0h2m4 0h2m203 0h2m-237 1h2m19 0h2m1 0h2m2 0h4m203 0h2m26 0h2m-265 1h2m8 0h2m6 0h4m6 0h2m233 0h2m-376 1h2m108 0h3m8 0h2m6 0h4m-133 1h2m108 0h6m13 0h2m1 0h2m9 0h2m-33 1h4m16 0h2m9 0h2m-5 1h2m-22 1h2m18 0h2m1 0h2m-37 1h2m9 0h3m16 0h2m1 0h4m233 0h2m-272 1h2m9 0h3m16 0h5m235 0h2m-254 1h2m11 0h2m229 0h2m-255 1h2m7 0h4m13 0h2m225 0h2m-261 1h2m4 0h2m9 0h2m8 0h2m3 0h2m219 0h2m-255 1h2m18 0h3m4 0h2m219 0h2m3 0h2m-257 1h2m16 0h2m2 0h3m212 0h2m11 0h2m-252 1h2m13 0h2m1 0h2m12 0h2m203 0h2m24 0h2m-263 1h4m9 0h4m11 0h4m223 0h2m4 0h2m-263 1h4m10 0h3m11 0h2m225 0h2" stroke="#444" stroke-width="1" fill="none" shape-rendering="crispEdges"/>
<path d="M213 616.5h2m1 0h2m1 0h4m3 0h2m1 0h2m2 0h2m-33 1h3m1 0h9m1 0h7m1 0h7m1 0h5m-35 1h3m1 0h31m-34 1h3m1 0h30m-36 1h2m1 0h35m-38 1h2m2 0h10m1 0h23m-40 1h5m2 0h20m2 0h10m-39 1h5m2 0h26m1 0h9m-41 1h4m1 0h15m2 0h19m190 0h4m-238 1h43m188 0h7m8 0h2m-248 1h43m188 0h5m3 0h3m1 0h5m1 0h2m-250 1h13m2 0h27m186 0h13m1 0h10m-252 1h13m2 0h9m1 0h2m1 0h14m186 0h24m1 0h2m-255 1h43m186 0h26m-255 1h40m1 0h2m186 0h24m-253 1h43m186 0h23m-252 1h5m1 0h6m1 0h10m1 0h18m185 0h27m-254 1h7m1 0h4m1 0h10m1 0h18m182 0h11m1 0h20m-256 1h34m1 0h7m182 0h4m1 0h27m-257 1h28m2 0h5m1 0h5m187 0h2m1 0h27m-258 1h35m1 0h5m185 0h4m1 0h3m1 0h23m-257 1h14m1 0h19m1 0h5m185 0h2m1 0h28m-256 1h34m1 0h7m185 0h29m-256 1h6m2 0h35m182 0h28m-252 1h22m1 0h19m182 0h2m1 0h2m1 0h23m-254 1h42m184 0h4m2 0h4m1 0h9m1 0h7m-254 1h31m1 0h8m186 0h8m2 0h16m1 0h2m-256 1h15m2 0h24m186 0h30m-257 1h23m1 0h16m187 0h2m1 0h27m-255 1h31m1 0h5m188 0h2m1 0h26m-254 1h19m1 0h18m187 0h2m1 0h26m-252 1h15m1 0h20m187 0h29m-251 1h9m1 0h7m1 0h16m189 0h28m-252 1h11m1 0h6m1 0h13m191 0h28m-251 1h13m1 0h18m191 0h29m-249 1h10m1 0h6m1 0h9m193 0h19m1 0h9m-249 1h30m190 0h24m1 0h3m-245 1h23m1 0h3m190 0h3m1 0h24m-245 1h9m1 0h13m197 0h24m-241 1h6m2 0h10m198 0h25m-240 1h14m200 0h9m2 0h13m-238 1h2m3 0h3m1 0h5m200 0h2m1 0h21m-228 1h2m205 0h9m1 0h12m-22 1h22m-22 1h11m1 0h10m-20 1h12m1 0h2m1 0h3m-19 1h2m1 0h9m-11 1h6m2 0h3m-11 1h2m6 0h2m15 28h2m-7 1h2m1 0h4m-7 1h2m1 0h2m-3 1h2m-26 1h2m22 0h2m-26 1h2m11 2h2m-2 1h2m18 0h2m-27 1h2m4 0h2m17 0h2m-27 1h2m4 0h2m20 0h2m-23 1h2m13 0h2m4 0h2m-23 1h2m13 0h2m4 0h2m-10 1h2m-18 1h4m12 0h2m-18 1h4m1 0h2m-16 1h3m3 0h2m3 0h2m1 0h2m-16 1h3m3 0h2m3 0h2m1 0h2m8 0h2m2 0h2m-30 1h2m22 0h2m2 0h2m-23 1h2m17 0h2m21 0h2m-44 1h2m2 0h2m6 0h2m5 0h2m21 0h2m-47 1h2m5 0h2m3 0h2m1 0h2m17 0h2m-37 1h3m4 0h2m2 0h4m3 0h2m14 0h3m-37 1h2m5 0h2m2 0h2m5 0h2m14 0h2m-30 1h2m10 0h2m-14 1h3m16 0h2m-20 1h2m1 0h2m3 0h2m2 0h2m4 0h2m3 0h2m-26 1h2m1 0h3m2 0h3m2 0h2m9 0h2m-46 1h2m18 0h2m1 0h2m3 0h3m5 0h3m3 0h2m-44 1h2m21 0h3m2 0h3m5 0h3m3 0h2m-29 1h2m5 0h4m9 0h2m-22 1h2m4 0h3m2 0h2m7 0h4m-18 1h4m1 0h2m7 0h4m-16 1h2m1 0h2m4 0h2m-29 1h2m10 0h2m3 0h2m2 0h2m4 0h2m7 0h2m-38 1h2m10 0h2m3 0h2m6 0h2m9 0h2m-26 1h2m6 0h2m3 0h2m3 0h3m-24 1h2m1 0h2m1 0h2m3 0h2m8 0h3m-24 1h2m4 0h3m2 0h4m6 0h3m-17 1h2m4 0h4m1 0h2m1 0h7m-21 1h2m3 0h8m1 0h7m-28 1h2m5 0h2m1 0h6m1 0h2m2 0h2m-23 1h2m8 0h2m9 0h2m-38 1h2m23 0h2m22 0h2m-51 1h2m18 0h2m2 0h2m1 0h2m1 0h3m2 0h2m3 0h2m7 0h2m-35 1h2m2 0h3m1 0h2m1 0h2m1 0h7m3 0h3m-27 1h2m2 0h3m6 0h6m6 0h3m-44 1h2m1 0h2m14 0h3m7 0h4m6 0h2m1 0h2m-44 1h2m1 0h2m11 0h2m1 0h4m1 0h3m4 0h4m4 0h2m2 0h2m-29 1h2m2 0h3m1 0h3m4 0h4m8 0h2m-29 1h2m6 0h4m16 0h2m-39 1h2m17 0h2m11 0h2m3 0h2m-39 1h2m15 0h2m6 0h2m2 0h5m-22 1h2m2 0h3m2 0h2m2 0h2m2 0h4m-258 1h19m1 0h13m193 0h30m1 0h8m-265 1h19m1 0h13m193 0h20m1 0h9m1 0h8" stroke="#111" stroke-width="1" fill="none" shape-rendering="crispEdges"/>
<path d="M185 613.5h1m8 0h1m4 0h1m1 0h1m2 0h1m1 0h2m3 0h1m2 0h2m9 0h2m13 0h1m174 0h1m15 0h1m13 0h1m-252 1h3m1 0h1m3 0h3m2 0h1m1 0h3m1 0h5m2 0h2m1 0h1m1 0h1m2 0h2m4 0h1m175 0h1m1 0h1m6 0h1m6 0h1m10 0h1m1 0h1m7 0h1m2 0h1m6 0h1m-269 1h1m5 0h2m1 0h3m4 0h3m1 0h1m1 0h1m2 0h2m3 0h1m2 0h2m1 0h1m1 0h1m6 0h1m2 0h3m168 0h1m14 0h1m4 0h1m5 0h1m1 0h1m9 0h2m3 0h1m1 0h2m-268 1h1m3 0h1m1 0h4m1 0h2m1 0h2m8 0h1m2 0h1m1 0h4m2 0h1m2 0h1m1 0h4m1 0h2m2 0h1m2 0h2m4 0h1m170 0h1m4 0h1m1 0h1m4 0h1m5 0h1m3 0h1m2 0h2m1 0h1m2 0h2m2 0h1m1 0h1m1 0h1m1 0h1m-273 1h1m8 0h2m1 0h4m1 0h2m2 0h1m1 0h1m1 0h1m6 0h3m3 0h1m6 0h1m1 0h2m5 0h1m5 0h1m163 0h3m2 0h1m3 0h1m3 0h2m1 0h1m4 0h1m1 0h1m6 0h1m1 0h1m1 0h1m3 0h1m12 0h1m-278 1h1m7 0h1m45 0h1m3 0h1m3 0h1m173 0h5m5 0h1m1 0h1m1 0h1m8 0h1m3 0h2m-261 1h1m3 0h1m2 0h1m4 0h1m209 0h1m2 0h1m4 0h1m5 0h1m2 0h1m8 0h1m1 0h3m2 0h1m1 0h3m1 0h1m4 0h3m-262 1h1m217 0h1m16 0h1m6 0h1m3 0h1m8 0h1m-266 1h1m6 0h1m1 0h1m3 0h1m43 0h1m3 0h1m165 0h1m2 0h1m1 0h1m5 0h1m3 0h2m1 0h1m2 0h1m2 0h1m2 0h4m7 0h1m4 0h1m1 0h1m2 0h1m-275 1h1m8 0h1m42 0h1m7 0h1m168 0h1m2 0h1m4 0h1m2 0h1m1 0h1m1 0h2m1 0h4m10 0h4m2 0h3m2 0h1m-273 1h1m7 0h1m2 0h3m42 0h1m3 0h1m167 0h1m10 0h1m2 0h1m5 0h3m1 0h2m5 0h3m4 0h1m2 0h2m-268 1h1m2 0h1m5 0h1m47 0h1m167 0h1m5 0h1m2 0h1m1 0h1m6 0h2m1 0h1m1 0h2m6 0h2m1 0h2m1 0h2m2 0h1m-266 1h2m1 0h1m223 0h2m8 0h1m3 0h1m3 0h2m5 0h1m1 0h1m7 0h2m9 0h1m-276 1h1m58 0h1m161 0h2m3 0h2m7 0h1m14 0h1m2 0h1m7 0h1m2 0h1m2 0h1m-267 1h1m57 0h1m173 0h1m35 0h1m1 0h1m2 0h1m-274 1h1m1 0h1m1 0h1m2 0h1m43 0h1m1 0h1m175 0h1m41 0h2m1 0h1m-224 1h1m2 0h1m3 0h1m168 0h1m4 0h1m1 0h1m31 0h2m1 0h1m3 0h1m-275 1h1m2 0h1m3 0h1m223 0h1m5 0h1m27 0h1m-260 1h1m221 0h2m5 0h2m32 0h1m2 0h1m1 0h2m-226 1h1m2 0h1m1 0h1m171 0h1m1 0h1m7 0h2m37 0h1m-279 1h1m6 0h1m220 0h1m10 0h1m29 0h2m7 0h1m-280 1h1m10 0h1m2 0h1m221 0h1m33 0h1m1 0h1m6 0h2m-272 1h1m5 0h1m41 0h2m173 0h1m1 0h1m39 0h1m2 0h1m-278 1h2m1 0h1m1 0h3m48 0h1m171 0h1m5 0h1m6 0h1m30 0h1m5 0h1m-226 1h1m8 0h1m169 0h2m3 0h1m34 0h1m-270 1h1m7 0h1m47 0h1m177 0h1m30 0h2m5 0h1m-260 1h1m37 0h1m7 0h1m167 0h1m-229 1h1m11 0h1m219 0h1m4 0h1m33 0h1m-273 1h2m5 0h1m1 0h1m3 0h1m42 0h1m6 0h1m166 0h1m4 0h1m2 0h2m32 0h1m3 0h1m-273 1h1m3 0h1m48 0h2m177 0h1m36 0h1m6 0h1m-274 1h1m3 0h1m1 0h1m39 0h1m3 0h1m1 0h1m172 0h2m2 0h2m31 0h1m2 0h1m-272 1h1m9 0h1m224 0h1m1 0h1m29 0h1m6 0h1m4 0h1m-281 1h1m5 0h1m48 0h1m179 0h1m2 0h1m35 0h1m-274 1h1m48 0h1m7 0h1m178 0h1m1 0h1m38 0h1m-224 1h1m3 0h1m-8 1h2m178 0h1m3 0h1m-224 1h2m18 0h1m9 0h1m9 0h1m185 0h1m25 0h1m1 0h2m-256 1h1m8 0h1m15 0h1m2 0h1m6 0h1m1 0h1m182 0h2m5 0h1m32 0h1m-259 1h1m5 0h1m9 0h1m3 0h1m9 0h1m3 0h1m1 0h1m179 0h1m1 0h1m2 0h3m31 0h1m-249 1h1m10 0h1m2 0h1m4 0h1m5 0h1m3 0h1m182 0h2m2 0h1m31 0h1m9 0h1m-266 1h1m1 0h1m5 0h1m1 0h2m3 0h1m2 0h1m1 0h1m4 0h1m2 0h1m7 0h1m187 0h1m28 0h1m2 0h1m6 0h1m-247 1h2m3 0h3m6 0h3m184 0h1m40 0h2m1 0h1m-259 1h1m3 0h1m1 0h2m4 0h1m5 0h3m6 0h1m1 0h1m2 0h2m179 0h2m7 0h1m26 0h1m1 0h2m-258 1h1m1 0h1m3 0h1m5 0h1m9 0h2m1 0h2m4 0h1m7 0h1m181 0h1m43 0h1m-263 1h1m1 0h1m4 0h1m5 0h1m2 0h1m2 0h3m8 0h1m3 0h1m184 0h1m2 0h1m26 0h1m1 0h2m3 0h1m4 0h1m-267 1h1m2 0h1m3 0h1m1 0h1m4 0h1m7 0h1m2 0h1m5 0h3m4 0h1m182 0h1m11 0h1m7 0h1m6 0h1m15 0h1m1 0h1m-265 1h2m2 0h1m4 0h2m2 0h1m1 0h1m11 0h1m7 0h1m190 0h1m2 0h1m2 0h2m1 0h1m1 0h3m4 0h1m1 0h1m10 0h2m3 0h2m-260 1h1m1 0h1m6 0h1m2 0h3m3 0h1m5 0h2m2 0h1m6 0h1m2 0h1m175 0h2m1 0h1m8 0h3m1 0h3m4 0h4m2 0h2m-250 1h1m6 0h1m4 0h1m1 0h1m6 0h1m3 0h1m2 0h1m7 0h1m180 0h1m6 0h1m1 0h1m6 0h1m1 0h2m1 0h1m1 0h2m1 0h1m2 0h5m2 0h1m7 0h1m1 0h1m2 0h1m-263 1h1m5 0h1m3 0h1m16 0h1m191 0h1m8 0h1m1 0h2m4 0h1m1 0h5m1 0h3m7 0h1m-257 1h1m1 0h1m4 0h1m7 0h1m5 0h1m14 0h1m181 0h1m12 0h10m1 0h3m2 0h1m8 0h1m4 0h1m-249 1h1m4 0h1m7 0h1m2 0h1m1 0h1m185 0h1m13 0h1m2 0h1m1 0h11m1 0h1m3 0h1m4 0h1m-256 1h3m1 0h2m2 0h1m1 0h2m1 0h1m2 0h1m2 0h1m198 0h1m3 0h3m5 0h1m1 0h2m2 0h3m1 0h4m1 0h2m6 0h1m-257 1h2m1 0h1m1 0h1m7 0h1m10 0h1m5 0h2m2 0h1m2 0h1m2 0h1m190 0h7m1 0h6m1 0h2m3 0h1m3 0h2m4 0h1m1 0h1m-266 1h2m2 0h1m2 0h3m6 0h1m2 0h1m11 0h1m4 0h1m183 0h1m1 0h1m1 0h1m1 0h1m5 0h7m1 0h4m1 0h1m2 0h4m3 0h1m4 0h1m-254 1h1m7 0h1m9 0h2m2 0h1m7 0h2m3 0h1m178 0h1m5 0h1m5 0h10m2 0h1m1 0h5m1 0h2m2 0h1m2 0h1m-259 1h1m13 0h1m5 0h1m7 0h1m5 0h1m3 0h1m192 0h1m1 0h15m1 0h1m2 0h1m1 0h2m1 0h3m2 0h1m-243 1h1m12 0h1m196 0h3m2 0h4m1 0h3m1 0h2m1 0h3m1 0h3m1 0h2m4 0h1m-253 1h1m3 0h1m211 0h1m1 0h3m1 0h1m1 0h1m1 0h1m1 0h2m4 0h1m1 0h3m1 0h3m2 0h1m2 0h4m1 0h2m-251 1h1m17 0h1m196 0h1m1 0h3m3 0h1m1 0h3m3 0h2m4 0h1m5 0h1m1 0h1m-30 1h1m1 0h1m5 0h1m2 0h1m1 0h2m1 0h1m2 0h1m1 0h2m1 0h3m2 0h3m1 0h1m-232 1h1m202 0h1m1 0h2m2 0h1m3 0h1m1 0h3m2 0h2m1 0h3m3 0h1m2 0h1m-256 1h1m225 0h2m4 0h1m1 0h1m1 0h1m3 0h1m4 0h2m3 0h6m-36 1h1m1 0h1m1 0h1m1 0h2m2 0h2m1 0h1m3 0h1m1 0h1m1 0h2m2 0h1m2 0h2m1 0h1m1 0h1m-34 1h1m4 0h2m6 0h2m1 0h1m2 0h1m2 0h2m2 0h1m2 0h1m-29 1h1m1 0h1m1 0h2m1 0h2m4 0h1m1 0h3m3 0h2m1 0h3m1 0h1m3 0h1m-259 1h1m5 0h1m10 0h1m206 0h1m6 0h1m2 0h1m3 0h2m1 0h2m2 0h3m4 0h2m1 0h1m3 0h1m-238 1h1m200 0h1m2 0h2m2 0h1m1 0h1m7 0h1m1 0h2m2 0h3m10 0h1m-35 1h1m2 0h1m1 0h2m3 0h2m3 0h1m8 0h5m3 0h1m1 0h1m1 0h1m-31 1h1m6 0h1m2 0h2m1 0h1m1 0h2m2 0h4m1 0h1m1 0h1m-33 1h3m8 0h1m1 0h2m4 0h1m2 0h1m1 0h2m2 0h1m-252 1h1m229 0h1m2 0h2m1 0h1m6 0h1m2 0h1m9 0h1m-31 1h1m9 0h1m3 0h1m7 1h1m3 0h1m-22 1h1m24 0h1m1 0h1m-257 1h1m222 0h1m15 0h1m2 0h1m13 0h1m-1 1h1m-30 1h1m23 0h2m8 1h1m-256 1h1m25 0h1m202 0h2m4 0h1m9 0h1m-36 1h1m12 0h1m7 1h2m5 0h1m4 0h1m-226 1h1m203 0h1m1 0h1m3 0h1m8 0h1m7 0h1m-17 1h1m2 0h1m2 0h1m8 0h1m3 0h1m-23 1h1m5 0h1m1 0h2m4 0h2m6 0h1m-231 1h1m2 0h1m215 0h2m1 0h1m1 0h1m5 0h1m3 0h1m4 0h1m-40 1h1m1 0h2m13 0h1m14 0h2m-27 1h1m18 0h1m10 0h1m-42 1h1m18 0h3m1 0h1m9 0h1m2 0h2m4 0h1m-39 1h2m5 0h1m4 0h1m3 0h1m1 0h1m1 0h2m5 0h1m4 0h1m1 0h2m-30 1h1m1 0h1m1 0h1m2 0h1m14 0h1m5 0h1m6 0h1m-38 1h3m1 0h1m6 0h1m1 0h1m1 0h2m3 0h1m2 0h1m2 0h2m1 0h2m-33 1h1m11 0h2m2 0h2m1 0h1m2 0h1m4 0h2m3 0h1m-29 1h1m2 0h1m2 0h1m1 0h1m1 0h1m12 0h2m6 0h1m-256 1h1m222 0h1m7 0h1m3 0h2m2 0h1m8 0h2m-27 1h2m4 0h2m1 0h1m8 0h2m2 0h1m-14 1h1m2 0h1m1 0h1m2 0h5m2 0h1m3 0h1m1 0h2m-254 1h1m215 0h1m2 0h1m3 0h1m3 0h1m1 0h1m1 0h1m4 0h1m1 0h1m3 0h3m-239 1h1m208 0h1m3 0h1m4 0h1m3 0h1m7 0h1m17 0h1m-36 1h1m9 0h1m3 0h1m1 0h1m4 0h1m1 0h1m1 0h1m-246 1h1m9 0h1m219 0h1m4 0h1m1 0h1m2 0h3m6 0h1m5 0h1m-35 1h1m1 0h1m3 0h1m4 0h1m1 0h2m2 0h2m1 0h4m3 0h1m2 0h1m-27 1h1m2 0h1m2 0h5m2 0h1m4 0h1m4 0h1m7 0h1m-37 1h1m7 0h1m6 0h1m8 0h1m3 0h1m6 0h1m-27 1h1m2 0h1m5 0h1m3 0h2m-24 1h1m6 0h1m4 0h1m3 0h3m1 0h1m4 0h2m11 0h1m-33 1h1m2 0h1m1 0h2m3 0h1m1 0h1m2 0h2m2 0h1m2 0h1m4 0h1m3 0h1m-38 1h1m2 0h1m5 0h1m2 0h1m1 0h1m1 0h2m4 0h1m1 0h2m1 0h3m1 0h1m1 0h1m1 0h1m-262 1h1m18 0h1m211 0h1m6 0h1m10 0h1m18 0h1m-244 1h1m204 0h2m1 0h3m12 0h1m2 0h2m2 0h1m6 0h1m-268 1h1m7 0h1m3 0h1m5 0h1m1 0h1m3 0h1m11 0h1m194 0h1m4 0h1m1 0h2m2 0h1m2 0h1m2 0h2m1 0h1m1 0h1m1 0h3m2 0h1m1 0h2m2 0h1m5 0h1m-267 1h1m4 0h1m15 0h1m5 0h1m204 0h1m1 0h1m3 0h1m3 0h5m1 0h1m2 0h1m4 0h2m-255 1h1m14 0h1m207 0h2m4 0h1m1 0h1m1 0h3m6 0h4m1 0h1m1 0h1m1 0h1m2 0h1m-258 1h1m7 0h1m7 0h1m211 0h1m8 0h1m7 0h5m7 0h1m-257 1h1m7 0h1m15 0h1m202 0h1m3 0h1m2 0h1m1 0h2m1 0h1m2 0h1m5 0h1m1 0h1m1 0h1m4 0h2m3 0h1m-39 1h1m12 0h1m1 0h2m1 0h1m4 0h1m4 0h1m1 0h1m-262 1h1m22 0h1m8 0h1m189 0h1m18 0h4m2 0h1m2 0h4m2 0h2m6 0h1m2 0h1m-247 1h1m9 0h1m202 0h1m1 0h2m1 0h2m2 0h1m2 0h1m1 0h2m2 0h2m1 0h1m2 0h1m14 0h1m-275 1h1m3 0h1m10 0h1m15 0h1m197 0h1m3 0h1m8 0h2m1 0h1m1 0h3m3 0h1m1 0h1m1 0h1m-231 1h1m2 0h1m205 0h1m1 0h1m1 0h1m4 0h1m2 0h5m1 0h4m1 0h1m1 0h3m-253 1h1m1 0h1m9 0h1m2 0h1m1 0h1m3 0h1m202 0h1m1 0h1m1 0h2m4 0h1m1 0h1m1 0h1m2 0h3m3 0h1m-250 1h1m12 0h1m8 0h1m194 0h1m11 0h1m3 0h2m1 0h1m2 0h1m1 0h1m1 0h1m1 0h1m3 0h1m1 0h2m3 0h1m1 0h1m-252 1h2m5 0h1m205 0h2m3 0h2m1 0h1m6 0h2m2 0h2m3 0h1m3 0h2m3 0h2m-236 1h1m195 0h1m8 0h1m6 0h7m4 0h2m1 0h1m7 0h2m8 0h1m-269 1h1m7 0h1m220 0h1m1 0h1m1 0h2m3 0h2m7 0h1m1 0h2m1 0h2m1 0h1m7 0h1m1 0h1m-267 1h1m4 0h1m2 0h1m7 0h1m3 0h1m202 0h1m14 0h1m1 0h3m1 0h2m1 0h1m1 0h5m1 0h1m3 0h1m1 0h2m9 0h1m-270 1h1m7 0h1m9 0h1m205 0h1m5 0h1m3 0h1m1 0h1m9 0h1m1 0h1m2 0h2m1 0h2m2 0h1m-259 1h1m1 0h1m13 0h1m3 0h1m209 0h1m3 0h1m3 0h1m1 0h5m1 0h1m1 0h2m2 0h1m1 0h2m4 0h1m5 0h2m-262 1h1m4 0h1m3 0h1m5 0h2m200 0h1m6 0h1m2 0h1m7 0h2m2 0h2m1 0h1m1 0h3m1 0h2m-248 1h1m11 0h1m3 0h1m7 0h1m197 0h1m1 0h1m1 0h1m2 0h1m4 0h5m2 0h1m1 0h1m1 0h1m2 0h1m3 0h1m2 0h1m-266 1h1m9 0h1m9 0h1m199 0h1m8 0h1m1 0h1m3 0h1m4 0h1m1 0h3m2 0h1m1 0h7m6 0h1m12 0h1m-277 1h1m2 0h1m24 0h1m2 0h1m192 0h2m7 0h1m1 0h2m4 0h3m1 0h1m1 0h2m1 0h1m1 0h2m8 0h1m1 0h3m-265 1h1m19 0h1m202 0h2m2 0h1m2 0h1m1 0h1m1 0h1m3 0h1m5 0h4m4 0h1m1 0h1m5 0h1m4 0h1m3 0h1m-272 1h1m3 0h1m8 0h1m6 0h1m2 0h1m4 0h1m1 0h1m194 0h1m2 0h2m3 0h1m3 0h1m4 0h2m1 0h2m1 0h2m1 0h6m1 0h1m2 0h4m-266 1h33m192 0h43" stroke="#111" stroke-width="1" fill="none" shape-rendering="crispEdges"/></g>
<rect x="67.5" y="12.8" width="190.00" height="157.90" fill="none" stroke="#000" stroke-width="1.6"/>
<line x1="143.2" y1="12.8" x2="143.2" y2="170.7" stroke="#444" stroke-width="1.3"/>
<line x1="67.5" y1="123.7" x2="257.5" y2="123.7" stroke="#111" stroke-width="1.4"/>
<path d="M67.5 170.70h-6.5M67.50 170.7v6.5M67.5 158.82h-3.5M81.80 170.7v3.5M67.5 151.87h-3.5M90.16 170.7v3.5M67.5 146.93h-3.5M96.10 170.7v3.5M67.5 143.11h-3.5M100.70 170.7v3.5M67.5 139.98h-3.5M104.46 170.7v3.5M67.5 137.34h-3.5M107.64 170.7v3.5M67.5 135.05h-3.5M110.40 170.7v3.5M67.5 133.03h-3.5M112.83 170.7v3.5M67.5 131.22h-6.5M115.00 170.7v6.5M67.5 119.34h-3.5M129.30 170.7v3.5M67.5 112.39h-3.5M137.66 170.7v3.5M67.5 107.46h-3.5M143.60 170.7v3.5M67.5 103.63h-3.5M148.20 170.7v3.5M67.5 100.51h-3.5M151.96 170.7v3.5M67.5 97.86h-3.5M155.14 170.7v3.5M67.5 95.58h-3.5M157.90 170.7v3.5M67.5 93.56h-3.5M160.33 170.7v3.5M67.5 91.75h-6.5M162.50 170.7v6.5M67.5 79.87h-3.5M176.80 170.7v3.5M67.5 72.92h-3.5M185.16 170.7v3.5M67.5 67.98h-3.5M191.10 170.7v3.5M67.5 64.16h-3.5M195.70 170.7v3.5M67.5 61.03h-3.5M199.46 170.7v3.5M67.5 58.39h-3.5M202.64 170.7v3.5M67.5 56.10h-3.5M205.40 170.7v3.5M67.5 54.08h-3.5M207.83 170.7v3.5M67.5 52.28h-6.5M210.00 170.7v6.5M67.5 40.39h-3.5M224.30 170.7v3.5M67.5 33.44h-3.5M232.66 170.7v3.5M67.5 28.51h-3.5M238.60 170.7v3.5M67.5 24.68h-3.5M243.20 170.7v3.5M67.5 21.56h-3.5M246.96 170.7v3.5M67.5 18.91h-3.5M250.14 170.7v3.5M67.5 16.63h-3.5M252.90 170.7v3.5M67.5 14.61h-3.5M255.33 170.7v3.5M67.5 12.80h-6.5M257.50 170.7v6.5" stroke="#000" stroke-width="1.5" fill="none"/>
<text transform="translate(57.40 181.70) rotate(-90)" font-size="12.6" textLength="13.9" lengthAdjust="spacingAndGlyphs">10</text>
<text transform="translate(50.40 165.20) rotate(-90)" font-size="12.2">0</text>
<text x="56.90" y="192.40" font-size="12.4" textLength="13.8" lengthAdjust="spacingAndGlyphs">10</text>
<text x="70.10" y="186.50" font-size="11.2">0</text>
<text transform="translate(57.40 142.22) rotate(-90)" font-size="12.6" textLength="13.9" lengthAdjust="spacingAndGlyphs">10</text>
<text transform="translate(50.40 125.72) rotate(-90)" font-size="12.2">1</text>
<text x="104.40" y="192.40" font-size="12.4" textLength="13.8" lengthAdjust="spacingAndGlyphs">10</text>
<text x="117.60" y="186.50" font-size="11.2">1</text>
<text transform="translate(57.40 102.75) rotate(-90)" font-size="12.6" textLength="13.9" lengthAdjust="spacingAndGlyphs">10</text>
<text transform="translate(50.40 86.25) rotate(-90)" font-size="12.2">2</text>
<text x="151.90" y="192.40" font-size="12.4" textLength="13.8" lengthAdjust="spacingAndGlyphs">10</text>
<text x="165.10" y="186.50" font-size="11.2">2</text>
<text transform="translate(57.40 63.28) rotate(-90)" font-size="12.6" textLength="13.9" lengthAdjust="spacingAndGlyphs">10</text>
<text transform="translate(50.40 46.78) rotate(-90)" font-size="12.2">3</text>
<text x="199.40" y="192.40" font-size="12.4" textLength="13.8" lengthAdjust="spacingAndGlyphs">10</text>
<text x="212.60" y="186.50" font-size="11.2">3</text>
<text transform="translate(57.40 26.30) rotate(-90)" font-size="12.6" textLength="13.9" lengthAdjust="spacingAndGlyphs">10</text>
<text transform="translate(50.40 9.80) rotate(-90)" font-size="12.2">4</text>
<text x="246.90" y="192.40" font-size="12.4" textLength="13.8" lengthAdjust="spacingAndGlyphs">10</text>
<text x="260.10" y="186.50" font-size="11.2">4</text>
<rect x="320.1" y="12.1" width="190.90" height="158.50" fill="none" stroke="#000" stroke-width="1.6"/>
<line x1="395.1" y1="12.1" x2="395.1" y2="170.6" stroke="#111" stroke-width="1.3"/>
<line x1="320.1" y1="123.1" x2="511" y2="123.1" stroke="#111" stroke-width="1.3"/>
<path d="M320.1 170.60h-6.5M320.10 170.6v6.5M320.1 158.67h-3.5M334.47 170.6v3.5M320.1 151.69h-3.5M342.87 170.6v3.5M320.1 146.74h-3.5M348.83 170.6v3.5M320.1 142.90h-3.5M353.46 170.6v3.5M320.1 139.77h-3.5M357.24 170.6v3.5M320.1 137.11h-3.5M360.43 170.6v3.5M320.1 134.82h-3.5M363.20 170.6v3.5M320.1 132.79h-3.5M365.64 170.6v3.5M320.1 130.97h-6.5M367.83 170.6v6.5M320.1 119.05h-3.5M382.19 170.6v3.5M320.1 112.07h-3.5M390.60 170.6v3.5M320.1 107.12h-3.5M396.56 170.6v3.5M320.1 103.28h-3.5M401.18 170.6v3.5M320.1 100.14h-3.5M404.96 170.6v3.5M320.1 97.49h-3.5M408.16 170.6v3.5M320.1 95.19h-3.5M410.92 170.6v3.5M320.1 93.16h-3.5M413.37 170.6v3.5M320.1 91.35h-6.5M415.55 170.6v6.5M320.1 79.42h-3.5M429.92 170.6v3.5M320.1 72.44h-3.5M438.32 170.6v3.5M320.1 67.49h-3.5M444.28 170.6v3.5M320.1 63.65h-3.5M448.91 170.6v3.5M320.1 60.52h-3.5M452.69 170.6v3.5M320.1 57.86h-3.5M455.88 170.6v3.5M320.1 55.57h-3.5M458.65 170.6v3.5M320.1 53.54h-3.5M461.09 170.6v3.5M320.1 51.72h-6.5M463.27 170.6v6.5M320.1 39.80h-3.5M477.64 170.6v3.5M320.1 32.82h-3.5M486.05 170.6v3.5M320.1 27.87h-3.5M492.01 170.6v3.5M320.1 24.03h-3.5M496.63 170.6v3.5M320.1 20.89h-3.5M500.41 170.6v3.5M320.1 18.24h-3.5M503.61 170.6v3.5M320.1 15.94h-3.5M506.37 170.6v3.5M320.1 13.91h-3.5M508.82 170.6v3.5M320.1 12.10h-6.5M511.00 170.6v6.5" stroke="#000" stroke-width="1.5" fill="none"/>
<text transform="translate(308.70 181.60) rotate(-90)" font-size="12.6" textLength="13.9" lengthAdjust="spacingAndGlyphs">10</text>
<text transform="translate(301.70 165.10) rotate(-90)" font-size="12.2">0</text>
<text x="309.50" y="192.30" font-size="12.4" textLength="13.8" lengthAdjust="spacingAndGlyphs">10</text>
<text x="322.70" y="186.40" font-size="11.2">0</text>
<text transform="translate(308.70 141.97) rotate(-90)" font-size="12.6" textLength="13.9" lengthAdjust="spacingAndGlyphs">10</text>
<text transform="translate(301.70 125.47) rotate(-90)" font-size="12.2">1</text>
<text x="357.23" y="192.30" font-size="12.4" textLength="13.8" lengthAdjust="spacingAndGlyphs">10</text>
<text x="370.43" y="186.40" font-size="11.2">1</text>
<text transform="translate(308.70 102.35) rotate(-90)" font-size="12.6" textLength="13.9" lengthAdjust="spacingAndGlyphs">10</text>
<text transform="translate(301.70 85.85) rotate(-90)" font-size="12.2">2</text>
<text x="404.95" y="192.30" font-size="12.4" textLength="13.8" lengthAdjust="spacingAndGlyphs">10</text>
<text x="418.15" y="186.40" font-size="11.2">2</text>
<text transform="translate(308.70 62.72) rotate(-90)" font-size="12.6" textLength="13.9" lengthAdjust="spacingAndGlyphs">10</text>
<text transform="translate(301.70 46.22) rotate(-90)" font-size="12.2">3</text>
<text x="452.67" y="192.30" font-size="12.4" textLength="13.8" lengthAdjust="spacingAndGlyphs">10</text>
<text x="465.88" y="186.40" font-size="11.2">3</text>
<text transform="translate(308.70 25.60) rotate(-90)" font-size="12.6" textLength="13.9" lengthAdjust="spacingAndGlyphs">10</text>
<text transform="translate(301.70 9.10) rotate(-90)" font-size="12.2">4</text>
<text x="500.40" y="192.30" font-size="12.4" textLength="13.8" lengthAdjust="spacingAndGlyphs">10</text>
<text x="513.60" y="186.40" font-size="11.2">4</text>
<rect x="73.5" y="208.5" width="183.50" height="158.20" fill="none" stroke="#000" stroke-width="1.6"/>
<line x1="146.2" y1="208.5" x2="146.2" y2="366.7" stroke="#111" stroke-width="1.3"/>
<line x1="73.5" y1="318.2" x2="257" y2="318.2" stroke="#111" stroke-width="1.3"/>
<path d="M73.5 366.70h-6.5M73.50 366.7v6.5M73.5 354.79h-3.5M87.31 366.7v3.5M73.5 347.83h-3.5M95.39 366.7v3.5M73.5 342.89h-3.5M101.12 366.7v3.5M73.5 339.06h-3.5M105.57 366.7v3.5M73.5 335.92h-3.5M109.20 366.7v3.5M73.5 333.28h-3.5M112.27 366.7v3.5M73.5 330.98h-3.5M114.93 366.7v3.5M73.5 328.96h-3.5M117.28 366.7v3.5M73.5 327.15h-6.5M119.38 366.7v6.5M73.5 315.24h-3.5M133.18 366.7v3.5M73.5 308.28h-3.5M141.26 366.7v3.5M73.5 303.34h-3.5M146.99 366.7v3.5M73.5 299.51h-3.5M151.44 366.7v3.5M73.5 296.37h-3.5M155.07 366.7v3.5M73.5 293.73h-3.5M158.14 366.7v3.5M73.5 291.43h-3.5M160.80 366.7v3.5M73.5 289.41h-3.5M163.15 366.7v3.5M73.5 287.60h-6.5M165.25 366.7v6.5M73.5 275.69h-3.5M179.06 366.7v3.5M73.5 268.73h-3.5M187.14 366.7v3.5M73.5 263.79h-3.5M192.87 366.7v3.5M73.5 259.96h-3.5M197.32 366.7v3.5M73.5 256.82h-3.5M200.95 366.7v3.5M73.5 254.18h-3.5M204.02 366.7v3.5M73.5 251.88h-3.5M206.68 366.7v3.5M73.5 249.86h-3.5M209.03 366.7v3.5M73.5 248.05h-6.5M211.12 366.7v6.5M73.5 236.14h-3.5M224.93 366.7v3.5M73.5 229.18h-3.5M233.01 366.7v3.5M73.5 224.24h-3.5M238.74 366.7v3.5M73.5 220.41h-3.5M243.19 366.7v3.5M73.5 217.27h-3.5M246.82 366.7v3.5M73.5 214.63h-3.5M249.89 366.7v3.5M73.5 212.33h-3.5M252.55 366.7v3.5M73.5 210.31h-3.5M254.90 366.7v3.5M73.5 208.50h-6.5M257.00 366.7v6.5" stroke="#000" stroke-width="1.5" fill="none"/>
<text transform="translate(61.60 377.70) rotate(-90)" font-size="12.6" textLength="13.9" lengthAdjust="spacingAndGlyphs">10</text>
<text transform="translate(54.60 361.20) rotate(-90)" font-size="12.2">0</text>
<text x="62.90" y="388.40" font-size="12.4" textLength="13.8" lengthAdjust="spacingAndGlyphs">10</text>
<text x="76.10" y="382.50" font-size="11.2">0</text>
<text transform="translate(61.60 338.15) rotate(-90)" font-size="12.6" textLength="13.9" lengthAdjust="spacingAndGlyphs">10</text>
<text transform="translate(54.60 321.65) rotate(-90)" font-size="12.2">1</text>
<text x="108.78" y="388.40" font-size="12.4" textLength="13.8" lengthAdjust="spacingAndGlyphs">10</text>
<text x="121.97" y="382.50" font-size="11.2">1</text>
<text transform="translate(61.60 298.60) rotate(-90)" font-size="12.6" textLength="13.9" lengthAdjust="spacingAndGlyphs">10</text>
<text transform="translate(54.60 282.10) rotate(-90)" font-size="12.2">2</text>
<text x="154.65" y="388.40" font-size="12.4" textLength="13.8" lengthAdjust="spacingAndGlyphs">10</text>
<text x="167.85" y="382.50" font-size="11.2">2</text>
<text transform="translate(61.60 259.05) rotate(-90)" font-size="12.6" textLength="13.9" lengthAdjust="spacingAndGlyphs">10</text>
<text transform="translate(54.60 242.55) rotate(-90)" font-size="12.2">3</text>
<text x="200.53" y="388.40" font-size="12.4" textLength="13.8" lengthAdjust="spacingAndGlyphs">10</text>
<text x="213.72" y="382.50" font-size="11.2">3</text>
<text transform="translate(61.60 222.00) rotate(-90)" font-size="12.6" textLength="13.9" lengthAdjust="spacingAndGlyphs">10</text>
<text transform="translate(54.60 205.50) rotate(-90)" font-size="12.2">4</text>
<text x="246.40" y="388.40" font-size="12.4" textLength="13.8" lengthAdjust="spacingAndGlyphs">10</text>
<text x="259.60" y="382.50" font-size="11.2">4</text>
<rect x="323.2" y="211" width="186.80" height="158.70" fill="none" stroke="#000" stroke-width="1.6"/>
<line x1="397.2" y1="211" x2="397.2" y2="369.7" stroke="#111" stroke-width="1.3"/>
<line x1="323.2" y1="322.5" x2="510" y2="322.5" stroke="#111" stroke-width="1.3"/>
<path d="M323.2 369.70h-6.5M323.20 369.7v6.5M323.2 357.76h-3.5M337.26 369.7v3.5M323.2 350.77h-3.5M345.48 369.7v3.5M323.2 345.81h-3.5M351.32 369.7v3.5M323.2 341.97h-3.5M355.84 369.7v3.5M323.2 338.83h-3.5M359.54 369.7v3.5M323.2 336.17h-3.5M362.67 369.7v3.5M323.2 333.87h-3.5M365.37 369.7v3.5M323.2 331.84h-3.5M367.76 369.7v3.5M323.2 330.02h-6.5M369.90 369.7v6.5M323.2 318.08h-3.5M383.96 369.7v3.5M323.2 311.10h-3.5M392.18 369.7v3.5M323.2 306.14h-3.5M398.02 369.7v3.5M323.2 302.29h-3.5M402.54 369.7v3.5M323.2 299.15h-3.5M406.24 369.7v3.5M323.2 296.50h-3.5M409.37 369.7v3.5M323.2 294.19h-3.5M412.07 369.7v3.5M323.2 292.17h-3.5M414.46 369.7v3.5M323.2 290.35h-6.5M416.60 369.7v6.5M323.2 278.41h-3.5M430.66 369.7v3.5M323.2 271.42h-3.5M438.88 369.7v3.5M323.2 266.46h-3.5M444.72 369.7v3.5M323.2 262.62h-3.5M449.24 369.7v3.5M323.2 259.48h-3.5M452.94 369.7v3.5M323.2 256.82h-3.5M456.07 369.7v3.5M323.2 254.52h-3.5M458.77 369.7v3.5M323.2 252.49h-3.5M461.16 369.7v3.5M323.2 250.68h-6.5M463.30 369.7v6.5M323.2 238.73h-3.5M477.36 369.7v3.5M323.2 231.75h-3.5M485.58 369.7v3.5M323.2 226.79h-3.5M491.42 369.7v3.5M323.2 222.94h-3.5M495.94 369.7v3.5M323.2 219.80h-3.5M499.64 369.7v3.5M323.2 217.15h-3.5M502.77 369.7v3.5M323.2 214.84h-3.5M505.47 369.7v3.5M323.2 212.82h-3.5M507.86 369.7v3.5M323.2 211.00h-6.5M510.00 369.7v6.5" stroke="#000" stroke-width="1.5" fill="none"/>
<text transform="translate(309.70 380.70) rotate(-90)" font-size="12.6" textLength="13.9" lengthAdjust="spacingAndGlyphs">10</text>
<text transform="translate(302.70 364.20) rotate(-90)" font-size="12.2">0</text>
<text x="312.60" y="391.40" font-size="12.4" textLength="13.8" lengthAdjust="spacingAndGlyphs">10</text>
<text x="325.80" y="385.50" font-size="11.2">0</text>
<text transform="translate(309.70 341.02) rotate(-90)" font-size="12.6" textLength="13.9" lengthAdjust="spacingAndGlyphs">10</text>
<text transform="translate(302.70 324.52) rotate(-90)" font-size="12.2">1</text>
<text x="359.30" y="391.40" font-size="12.4" textLength="13.8" lengthAdjust="spacingAndGlyphs">10</text>
<text x="372.50" y="385.50" font-size="11.2">1</text>
<text transform="translate(309.70 301.35) rotate(-90)" font-size="12.6" textLength="13.9" lengthAdjust="spacingAndGlyphs">10</text>
<text transform="translate(302.70 284.85) rotate(-90)" font-size="12.2">2</text>
<text x="406.00" y="391.40" font-size="12.4" textLength="13.8" lengthAdjust="spacingAndGlyphs">10</text>
<text x="419.20" y="385.50" font-size="11.2">2</text>
<text transform="translate(309.70 261.68) rotate(-90)" font-size="12.6" textLength="13.9" lengthAdjust="spacingAndGlyphs">10</text>
<text transform="translate(302.70 245.18) rotate(-90)" font-size="12.2">3</text>
<text x="452.70" y="391.40" font-size="12.4" textLength="13.8" lengthAdjust="spacingAndGlyphs">10</text>
<text x="465.90" y="385.50" font-size="11.2">3</text>
<text transform="translate(309.70 224.50) rotate(-90)" font-size="12.6" textLength="13.9" lengthAdjust="spacingAndGlyphs">10</text>
<text transform="translate(302.70 208.00) rotate(-90)" font-size="12.2">4</text>
<text x="499.40" y="391.40" font-size="12.4" textLength="13.8" lengthAdjust="spacingAndGlyphs">10</text>
<text x="512.60" y="385.50" font-size="11.2">4</text>
<text x="0.96" y="19" font-size="25.8" font-weight="bold" textLength="19.28" lengthAdjust="spacingAndGlyphs">A</text>
<text x="-2.08" y="607.5" font-size="25.36" font-weight="bold" textLength="19.06" lengthAdjust="spacingAndGlyphs">B</text>
<text x="78.92" y="33.8" font-size="16.74" font-weight="bold" textLength="40.95" lengthAdjust="spacingAndGlyphs">0 nM</text>
<text x="323.27" y="31.7" font-size="17.25" font-weight="bold" textLength="60.0" lengthAdjust="spacingAndGlyphs">150 nM</text>
<text x="79.4" y="227.2" font-size="17.54" font-weight="bold" textLength="59.29" lengthAdjust="spacingAndGlyphs">400 nM</text>
<text x="324.62" y="230.2" font-size="15.94" font-weight="bold" textLength="68.06" lengthAdjust="spacingAndGlyphs">1000 nM</text>
<text x="223.35" y="426.3" font-size="21.45" font-weight="bold" textLength="99.08" lengthAdjust="spacingAndGlyphs">Annexin V</text>
<text x="144.43" y="407.4" font-size="15.65" textLength="37.74" lengthAdjust="spacingAndGlyphs">FL1-H</text>
<text x="395.55" y="409.4" font-size="15.36" textLength="40.45" lengthAdjust="spacingAndGlyphs">FL1-H</text>
<text transform="translate(18.1 274.95) rotate(-90)" font-size="21.45" font-weight="bold" textLength="166.02" lengthAdjust="spacingAndGlyphs">Propidium Iodide</text>
<text transform="translate(41.8 112.48) rotate(-90)" font-size="13.91" textLength="37.89" lengthAdjust="spacingAndGlyphs">FL2-H</text>
<text transform="translate(291.9 114.51) rotate(-90)" font-size="14.78" textLength="41.35" lengthAdjust="spacingAndGlyphs">FL2-H</text>
<text transform="translate(42.9 311.51) rotate(-90)" font-size="14.93" textLength="41.85" lengthAdjust="spacingAndGlyphs">FL2-H</text>
<text transform="translate(290 311.97) rotate(-90)" font-size="14.93" textLength="40.36" lengthAdjust="spacingAndGlyphs">FL2-H</text>
<rect x="47.5" y="444.2" width="469.5" height="115.3" fill="none" stroke="#111" stroke-width="1.8"/>
<line x1="156.8" y1="444.2" x2="156.8" y2="559.5" stroke="#111" stroke-width="1.6"/>
<line x1="156.8" y1="461.2" x2="517" y2="461.2" stroke="#111" stroke-width="1.6"/>
<line x1="47.5" y1="475.4" x2="517" y2="475.4" stroke="#111" stroke-width="1.6"/>
<line x1="245.9" y1="461.2" x2="245.9" y2="559.5" stroke="#111" stroke-width="1.6"/>
<line x1="368.6" y1="461.2" x2="368.6" y2="559.5" stroke="#111" stroke-width="1.6"/>
<text x="54.54" y="465" font-size="11" font-weight="bold" fill="#111" textLength="86.08" lengthAdjust="spacingAndGlyphs">INCB018424 (nM)</text>
<text x="288.4" y="456.3" font-size="11" font-weight="bold" fill="#111" textLength="75.03" lengthAdjust="spacingAndGlyphs">Percent of Cells</text>
<text x="172.6" y="472.2" font-size="11" font-weight="bold" fill="#111" textLength="49.51" lengthAdjust="spacingAndGlyphs">Viable (LL)</text>
<text x="248.49" y="471.9" font-size="11" font-weight="bold" fill="#111" textLength="96.87" lengthAdjust="spacingAndGlyphs">Early Apoptotic (LR)</text>
<text x="369.25" y="472.0" font-size="11" font-weight="bold" fill="#111" textLength="125.92" lengthAdjust="spacingAndGlyphs">Late Apoptotic/Dead (UR)</text>
<text x="71.0" y="488.7" font-size="11" font-weight="bold" fill="#111" textLength="57.45" lengthAdjust="spacingAndGlyphs">0 nM (CON)</text>
<text x="190.8" y="488.7" font-size="11" font-weight="bold" fill="#111" textLength="21.22" lengthAdjust="spacingAndGlyphs">90.7</text>
<text x="299.5" y="488.7" font-size="11" font-weight="bold" fill="#111" textLength="15.09" lengthAdjust="spacingAndGlyphs">2.3</text>
<text x="431.9" y="488.7" font-size="11" font-weight="bold" fill="#111" textLength="15.09" lengthAdjust="spacingAndGlyphs">6.8</text>
<text x="82.7" y="509.5" font-size="11" font-weight="bold" fill="#111" textLength="37.19" lengthAdjust="spacingAndGlyphs">150 nM</text>
<text x="190.83" y="509.5" font-size="11" font-weight="bold" fill="#111" textLength="21.16" lengthAdjust="spacingAndGlyphs">74.8</text>
<text x="299.59" y="509.5" font-size="11" font-weight="bold" fill="#111" textLength="15.11" lengthAdjust="spacingAndGlyphs">9.8</text>
<text x="428.73" y="509.5" font-size="11" font-weight="bold" fill="#111" textLength="21.16" lengthAdjust="spacingAndGlyphs">15.2</text>
<text x="83.7" y="530.8" font-size="11" font-weight="bold" fill="#111" textLength="36.19" lengthAdjust="spacingAndGlyphs">400 nM</text>
<text x="190.83" y="530.8" font-size="11" font-weight="bold" fill="#111" textLength="21.16" lengthAdjust="spacingAndGlyphs">63.1</text>
<text x="296.13" y="530.8" font-size="11" font-weight="bold" fill="#111" textLength="21.16" lengthAdjust="spacingAndGlyphs">16.6</text>
<text x="429.23" y="530.8" font-size="11" font-weight="bold" fill="#111" textLength="21.16" lengthAdjust="spacingAndGlyphs">20.1</text>
<text x="78.98" y="552.0" font-size="11" font-weight="bold" fill="#111" textLength="44.25" lengthAdjust="spacingAndGlyphs">1000 nM</text>
<text x="190.33" y="552.0" font-size="11" font-weight="bold" fill="#111" textLength="21.16" lengthAdjust="spacingAndGlyphs">38.1</text>
<text x="296.13" y="552.0" font-size="11" font-weight="bold" fill="#111" textLength="21.16" lengthAdjust="spacingAndGlyphs">30.4</text>
<text x="428.73" y="552.0" font-size="11" font-weight="bold" fill="#111" textLength="21.16" lengthAdjust="spacingAndGlyphs">31.4</text>
<rect x="91.5" y="612.7" width="180.80" height="136.60" fill="none" stroke="#333" stroke-width="1.2"/>
<line x1="91.5" y1="684.8" x2="272.3" y2="684.8" stroke="#333" stroke-width="1.1"/>
<path d="M91.5 749.30h-3.5M91.50 749.3v3.5M91.5 739.02h-1.5M105.11 749.3v1.5M91.5 733.01h-1.5M113.07 749.3v1.5M91.5 728.74h-1.5M118.71 749.3v1.5M91.5 725.43h-1.5M123.09 749.3v1.5M91.5 722.73h-1.5M126.67 749.3v1.5M91.5 720.44h-1.5M129.70 749.3v1.5M91.5 718.46h-1.5M132.32 749.3v1.5M91.5 716.71h-1.5M134.63 749.3v1.5M91.5 715.15h-3.5M136.70 749.3v3.5M91.5 704.87h-1.5M150.31 749.3v1.5M91.5 698.86h-1.5M158.27 749.3v1.5M91.5 694.59h-1.5M163.91 749.3v1.5M91.5 691.28h-1.5M168.29 749.3v1.5M91.5 688.58h-1.5M171.87 749.3v1.5M91.5 686.29h-1.5M174.90 749.3v1.5M91.5 684.31h-1.5M177.52 749.3v1.5M91.5 682.56h-1.5M179.83 749.3v1.5M91.5 681.00h-3.5M181.90 749.3v3.5M91.5 670.72h-1.5M195.51 749.3v1.5M91.5 664.71h-1.5M203.47 749.3v1.5M91.5 660.44h-1.5M209.11 749.3v1.5M91.5 657.13h-1.5M213.49 749.3v1.5M91.5 654.43h-1.5M217.07 749.3v1.5M91.5 652.14h-1.5M220.10 749.3v1.5M91.5 650.16h-1.5M222.72 749.3v1.5M91.5 648.41h-1.5M225.03 749.3v1.5M91.5 646.85h-3.5M227.10 749.3v3.5M91.5 636.57h-1.5M240.71 749.3v1.5M91.5 630.56h-1.5M248.67 749.3v1.5M91.5 626.29h-1.5M254.31 749.3v1.5M91.5 622.98h-1.5M258.69 749.3v1.5M91.5 620.28h-1.5M262.27 749.3v1.5M91.5 617.99h-1.5M265.30 749.3v1.5M91.5 616.01h-1.5M267.92 749.3v1.5M91.5 614.26h-1.5M270.23 749.3v1.5M91.5 612.70h-3.5M272.30 749.3v3.5" stroke="#222" stroke-width="1.2" fill="none"/>
<text transform="translate(83.20 756.20) rotate(-90)" font-size="8.2" textLength="8.9" lengthAdjust="spacingAndGlyphs">10</text>
<text transform="translate(78.60 746.80) rotate(-90)" font-size="7.4">0</text>
<text x="84.30" y="763.30" font-size="8.6" textLength="9.2" lengthAdjust="spacingAndGlyphs">10</text>
<text x="93.40" y="757.50" font-size="8.2">0</text>
<text transform="translate(83.20 722.05) rotate(-90)" font-size="8.2" textLength="8.9" lengthAdjust="spacingAndGlyphs">10</text>
<text transform="translate(78.60 712.65) rotate(-90)" font-size="7.4">1</text>
<text x="129.50" y="763.30" font-size="8.6" textLength="9.2" lengthAdjust="spacingAndGlyphs">10</text>
<text x="138.60" y="757.50" font-size="8.2">1</text>
<text transform="translate(83.20 687.90) rotate(-90)" font-size="8.2" textLength="8.9" lengthAdjust="spacingAndGlyphs">10</text>
<text transform="translate(78.60 678.50) rotate(-90)" font-size="7.4">2</text>
<text x="174.70" y="763.30" font-size="8.6" textLength="9.2" lengthAdjust="spacingAndGlyphs">10</text>
<text x="183.80" y="757.50" font-size="8.2">2</text>
<text transform="translate(83.20 653.75) rotate(-90)" font-size="8.2" textLength="8.9" lengthAdjust="spacingAndGlyphs">10</text>
<text transform="translate(78.60 644.35) rotate(-90)" font-size="7.4">3</text>
<text x="219.90" y="763.30" font-size="8.6" textLength="9.2" lengthAdjust="spacingAndGlyphs">10</text>
<text x="229.00" y="757.50" font-size="8.2">3</text>
<text transform="translate(83.20 619.60) rotate(-90)" font-size="8.2" textLength="8.9" lengthAdjust="spacingAndGlyphs">10</text>
<text transform="translate(78.60 610.20) rotate(-90)" font-size="7.4">4</text>
<text x="265.10" y="763.30" font-size="8.6" textLength="9.2" lengthAdjust="spacingAndGlyphs">10</text>
<text x="274.20" y="757.50" font-size="8.2">4</text>
<rect x="319.8" y="612.7" width="181.70" height="137.10" fill="none" stroke="#333" stroke-width="1.2"/>
<line x1="319.8" y1="684.8" x2="501.5" y2="684.8" stroke="#333" stroke-width="1.1"/>
<path d="M319.8 749.80h-3.5M319.80 749.8v3.5M319.8 739.48h-1.5M333.47 749.8v1.5M319.8 733.45h-1.5M341.47 749.8v1.5M319.8 729.16h-1.5M347.15 749.8v1.5M319.8 725.84h-1.5M351.55 749.8v1.5M319.8 723.13h-1.5M355.15 749.8v1.5M319.8 720.83h-1.5M358.19 749.8v1.5M319.8 718.85h-1.5M360.82 749.8v1.5M319.8 717.09h-1.5M363.15 749.8v1.5M319.8 715.52h-3.5M365.23 749.8v3.5M319.8 705.21h-1.5M378.90 749.8v1.5M319.8 699.17h-1.5M386.90 749.8v1.5M319.8 694.89h-1.5M392.57 749.8v1.5M319.8 691.57h-1.5M396.98 749.8v1.5M319.8 688.85h-1.5M400.57 749.8v1.5M319.8 686.56h-1.5M403.61 749.8v1.5M319.8 684.57h-1.5M406.25 749.8v1.5M319.8 682.82h-1.5M408.57 749.8v1.5M319.8 681.25h-3.5M410.65 749.8v3.5M319.8 670.93h-1.5M424.32 749.8v1.5M319.8 664.90h-1.5M432.32 749.8v1.5M319.8 660.61h-1.5M438.00 749.8v1.5M319.8 657.29h-1.5M442.40 749.8v1.5M319.8 654.58h-1.5M446.00 749.8v1.5M319.8 652.28h-1.5M449.04 749.8v1.5M319.8 650.30h-1.5M451.67 749.8v1.5M319.8 648.54h-1.5M454.00 749.8v1.5M319.8 646.98h-3.5M456.07 749.8v3.5M319.8 636.66h-1.5M469.75 749.8v1.5M319.8 630.62h-1.5M477.75 749.8v1.5M319.8 626.34h-1.5M483.42 749.8v1.5M319.8 623.02h-1.5M487.83 749.8v1.5M319.8 620.30h-1.5M491.42 749.8v1.5M319.8 618.01h-1.5M494.46 749.8v1.5M319.8 616.02h-1.5M497.10 749.8v1.5M319.8 614.27h-1.5M499.42 749.8v1.5M319.8 612.70h-3.5M501.50 749.8v3.5" stroke="#222" stroke-width="1.2" fill="none"/>
<text transform="translate(311.50 756.70) rotate(-90)" font-size="8.2" textLength="8.9" lengthAdjust="spacingAndGlyphs">10</text>
<text transform="translate(306.90 747.30) rotate(-90)" font-size="7.4">0</text>
<text x="312.60" y="763.80" font-size="8.6" textLength="9.2" lengthAdjust="spacingAndGlyphs">10</text>
<text x="321.70" y="758.00" font-size="8.2">0</text>
<text transform="translate(311.50 722.42) rotate(-90)" font-size="8.2" textLength="8.9" lengthAdjust="spacingAndGlyphs">10</text>
<text transform="translate(306.90 713.02) rotate(-90)" font-size="7.4">1</text>
<text x="358.03" y="763.80" font-size="8.6" textLength="9.2" lengthAdjust="spacingAndGlyphs">10</text>
<text x="367.12" y="758.00" font-size="8.2">1</text>
<text transform="translate(311.50 688.15) rotate(-90)" font-size="8.2" textLength="8.9" lengthAdjust="spacingAndGlyphs">10</text>
<text transform="translate(306.90 678.75) rotate(-90)" font-size="7.4">2</text>
<text x="403.45" y="763.80" font-size="8.6" textLength="9.2" lengthAdjust="spacingAndGlyphs">10</text>
<text x="412.55" y="758.00" font-size="8.2">2</text>
<text transform="translate(311.50 653.88) rotate(-90)" font-size="8.2" textLength="8.9" lengthAdjust="spacingAndGlyphs">10</text>
<text transform="translate(306.90 644.48) rotate(-90)" font-size="7.4">3</text>
<text x="448.88" y="763.80" font-size="8.6" textLength="9.2" lengthAdjust="spacingAndGlyphs">10</text>
<text x="457.97" y="758.00" font-size="8.2">3</text>
<text transform="translate(311.50 619.60) rotate(-90)" font-size="8.2" textLength="8.9" lengthAdjust="spacingAndGlyphs">10</text>
<text transform="translate(306.90 610.20) rotate(-90)" font-size="7.4">4</text>
<text x="494.30" y="763.80" font-size="8.6" textLength="9.2" lengthAdjust="spacingAndGlyphs">10</text>
<text x="503.40" y="758.00" font-size="8.2">4</text>
<text transform="translate(70.1 694.82) rotate(-90)" font-size="7.39" textLength="25.03" lengthAdjust="spacingAndGlyphs">FL2-H</text>
<text transform="translate(298.5 695.29) rotate(-90)" font-size="8.99" textLength="27.09" lengthAdjust="spacingAndGlyphs">FL2-H</text>
<text x="168.13" y="772.7" font-size="8.99" textLength="26.66" lengthAdjust="spacingAndGlyphs">FL1-H</text>
<text x="396.74" y="774.6" font-size="10.0" textLength="26.73" lengthAdjust="spacingAndGlyphs">FL1-H</text>
<text x="150.84" y="603.7" font-size="16.52" font-weight="bold" textLength="39.88" lengthAdjust="spacingAndGlyphs">0 nM</text>
<text x="368.57" y="603.3" font-size="14.2" font-weight="bold" textLength="68.86" lengthAdjust="spacingAndGlyphs">1000 nM</text>
<text x="133.39" y="721.9" font-size="15.36" font-weight="bold" textLength="31.82" lengthAdjust="spacingAndGlyphs">7.6%</text>
<text x="363.6" y="722" font-size="15.22" font-weight="bold" textLength="39.0" lengthAdjust="spacingAndGlyphs">30.2%</text>
<text transform="translate(34 715.77) rotate(-90)" font-size="18.84" font-weight="bold" textLength="63.03" lengthAdjust="spacingAndGlyphs">JC-1 Red</text>
<text transform="translate(54.5 730.85) rotate(-90)" font-size="17.39" font-weight="bold" textLength="94.72" lengthAdjust="spacingAndGlyphs">Fluorescence</text>
<text x="202.91" y="784.6" font-size="16.67" font-weight="bold" textLength="177.87" lengthAdjust="spacingAndGlyphs">JC-1 Green Fluorescence</text>
<rect x="180.5" y="823" width="210" height="119.7" fill="none" stroke="#111" stroke-width="1.6"/>
<line x1="253.3" y1="823" x2="253.3" y2="942.7" stroke="#111" stroke-width="1.6"/>
<line x1="318.7" y1="838" x2="318.7" y2="942.7" stroke="#111" stroke-width="1.4"/>
<line x1="180.5" y1="853.8" x2="390.5" y2="853.8" stroke="#333" stroke-width="3.2"/>
<text x="216" y="834.6" font-size="10.7" text-anchor="middle" stroke="#111" stroke-width="0.3" fill="#111">INCB018424</text>
<text x="216" y="849.6" font-size="10.7" text-anchor="middle" stroke="#111" stroke-width="0.3" fill="#111">(nM)</text>
<text x="318" y="835.2" font-size="10.7" text-anchor="middle" stroke="#111" stroke-width="0.3" fill="#111">Mitochondria Depolarized</text>
<text x="282" y="850" font-size="10.7" text-anchor="middle" stroke="#111" stroke-width="0.3" fill="#111">% Total</text>
<text x="351" y="850" font-size="10.7" text-anchor="middle" stroke="#111" stroke-width="0.3" fill="#111">% Control</text>
<text x="218" y="870.2" font-size="10.7" text-anchor="middle" stroke="#111" stroke-width="0.3" fill="#111">0 (CON)</text>
<text x="287.7" y="870.2" font-size="10.7" text-anchor="middle" stroke="#111" stroke-width="0.3" fill="#111">7.6</text>
<text x="356" y="870.2" font-size="10.7" text-anchor="middle" stroke="#111" stroke-width="0.3" fill="#111">100.0</text>
<text x="218" y="887.85" font-size="10.7" text-anchor="middle" stroke="#111" stroke-width="0.3" fill="#111">1000</text>
<text x="287.7" y="887.85" font-size="10.7" text-anchor="middle" stroke="#111" stroke-width="0.3" fill="#111">30.2</text>
<text x="356" y="887.85" font-size="10.7" text-anchor="middle" stroke="#111" stroke-width="0.3" fill="#111">397.4</text>
<text x="218" y="905.5" font-size="10.7" text-anchor="middle" stroke="#111" stroke-width="0.3" fill="#111">400</text>
<text x="287.7" y="905.5" font-size="10.7" text-anchor="middle" stroke="#111" stroke-width="0.3" fill="#111">23.0</text>
<text x="356" y="905.5" font-size="10.7" text-anchor="middle" stroke="#111" stroke-width="0.3" fill="#111">302.6</text>
<text x="218" y="923.1500000000001" font-size="10.7" text-anchor="middle" stroke="#111" stroke-width="0.3" fill="#111">160</text>
<text x="287.7" y="923.1500000000001" font-size="10.7" text-anchor="middle" stroke="#111" stroke-width="0.3" fill="#111">17.2</text>
<text x="356" y="923.1500000000001" font-size="10.7" text-anchor="middle" stroke="#111" stroke-width="0.3" fill="#111">226.3</text>
<text x="218" y="940.8000000000001" font-size="10.7" text-anchor="middle" stroke="#111" stroke-width="0.3" fill="#111">64</text>
<text x="287.7" y="940.8000000000001" font-size="10.7" text-anchor="middle" stroke="#111" stroke-width="0.3" fill="#111">15.2</text>
<text x="356" y="940.8000000000001" font-size="10.7" text-anchor="middle" stroke="#111" stroke-width="0.3" fill="#111">200.3</text>
</svg></body></html>
